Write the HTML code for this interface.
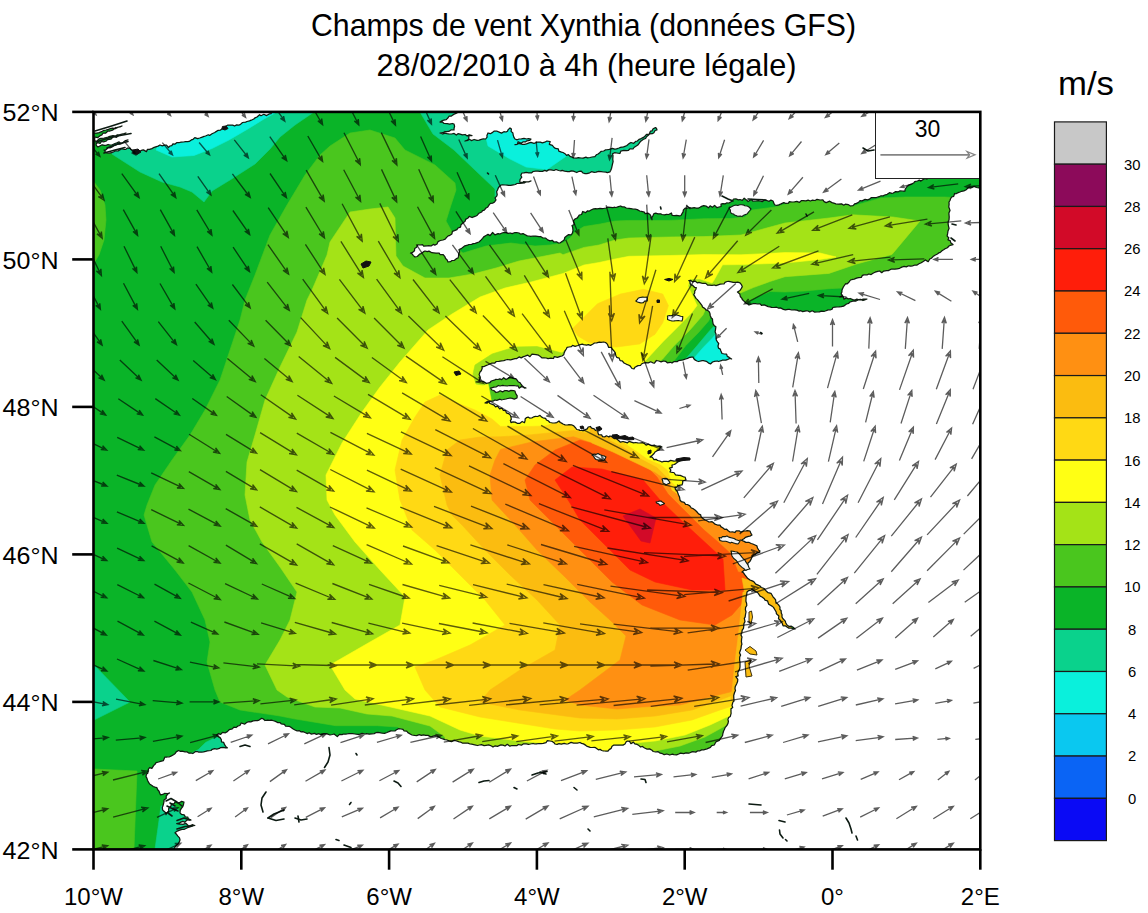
<!DOCTYPE html>
<html><head><meta charset="utf-8"><title>Champs de vent Xynthia</title>
<style>html,body{margin:0;padding:0;background:#fff}svg{display:block}text{font-family:"Liberation Sans",sans-serif;fill:#000}</style></head><body>
<svg width="1148" height="913" viewBox="0 0 1148 913">
<rect width="1148" height="913" fill="#fff"/>
<defs><clipPath id="plot"><rect x="93.5" y="111.9" width="886.8" height="737.5"/></clipPath></defs>
<g clip-path="url(#plot)">
<rect x="93.5" y="111.9" width="886.8" height="737.5" fill="#0ab428"/>
<polygon points="112.0,154.0 115.0,156.0 140.0,172.0 162.0,182.0 180.0,187.0 192.0,192.0 204.0,202.0 212.0,191.0 230.0,180.0 255.0,164.0 270.0,149.0 280.0,137.0 295.0,125.0 314.0,112.0 272.0,105.0 200.0,120.0 112.0,140.0" fill="#0ad28c" stroke="#0ad28c" stroke-width="0.6"/>
<polygon points="156.0,150.0 172.0,157.0 194.0,155.5 212.0,148.5 229.0,140.0 247.0,129.5 264.0,119.0 275.0,113.0 282.0,108.0 250.0,108.0 160.0,140.0" fill="#0af0dc" stroke="#0af0dc" stroke-width="0.6"/>
<polygon points="420.0,112.0 433.0,134.0 454.0,150.0 476.0,171.0 495.0,189.0 495.0,200.0 560.0,185.0 600.0,180.0 660.0,178.0 660.0,120.0 600.0,105.0 420.0,105.0" fill="#0ad28c" stroke="#0ad28c" stroke-width="0.6"/>
<polygon points="485.0,134.0 488.0,146.0 510.0,159.0 526.0,167.0 547.0,169.5 565.0,157.0 575.0,150.0 560.0,135.0 520.0,125.0 495.0,125.0" fill="#0af0dc" stroke="#0af0dc" stroke-width="0.6"/>
<polygon points="94.0,665.0 130.0,702.0 94.0,720.0" fill="#0ad28c" stroke="#0ad28c" stroke-width="0.6"/>
<polygon points="190.0,754.0 198.4,749.6 205.6,742.4 216.5,737.0 226.0,742.0 228.0,749.0 205.0,753.0" fill="#0ad28c" stroke="#0ad28c" stroke-width="0.6"/>
<polygon points="161.0,806.0 155.0,849.0 182.0,849.0 190.0,822.0 172.0,803.0" fill="#0ad28c" stroke="#0ad28c" stroke-width="0.6"/>
<polygon points="685.6,359.0 697.0,345.8 708.6,332.0 713.4,326.7 722.0,330.0 735.0,362.0 690.0,366.0" fill="#0ad28c" stroke="#0ad28c" stroke-width="0.6"/>
<polygon points="695.0,357.0 703.0,347.7 712.5,338.0 716.0,334.0 724.0,345.0 735.0,362.0 697.0,364.0" fill="#0af0dc" stroke="#0af0dc" stroke-width="0.6"/>
<polygon points="451.0,230.0 446.0,221.0 451.0,205.0 456.0,190.0 455.0,183.0 435.0,165.0 405.0,150.0 395.0,138.0 370.0,130.0 350.0,133.0 330.0,146.0 320.0,155.0 305.0,175.0 287.0,205.0 270.0,235.0 255.0,275.0 245.0,300.0 240.0,320.0 230.0,350.0 220.0,380.0 205.0,410.0 190.0,435.0 172.0,460.0 155.0,485.0 147.0,505.0 144.0,515.0 152.0,542.0 175.0,570.0 192.0,592.0 205.0,620.0 210.0,642.0 207.0,662.0 215.0,690.0 220.0,702.0 240.0,710.0 280.0,716.0 294.0,718.8 335.7,725.7 377.6,725.7 398.0,727.0 403.0,732.0 403.0,800.0 760.0,800.0 760.0,430.0 645.0,430.0 645.0,372.0 674.0,361.0 685.6,345.8 699.0,332.0 708.6,321.0 713.0,312.0 745.0,303.0 747.0,302.5 757.6,296.4 770.0,291.5 785.0,292.0 805.0,291.0 829.0,288.7 843.0,288.0 860.0,300.0 960.0,250.0 960.0,198.0 945.6,197.0 905.0,197.0 881.0,198.0 853.0,206.0 850.0,198.0 800.0,190.0 790.0,203.0 775.0,207.0 752.0,210.0 745.0,217.0 730.0,218.5 704.0,218.7 669.0,220.4 629.0,220.4 615.0,221.0 600.0,224.0 584.0,226.5 575.0,232.0 570.0,238.0 563.0,243.0 550.0,245.0 535.0,246.0 511.0,243.0 486.0,246.0 463.0,253.0 459.0,250.0" fill="#4ac61e" stroke="#4ac61e" stroke-width="0.6"/>
<polygon points="94.0,182.0 100.0,190.0 105.0,205.0 106.0,220.0 104.0,240.0 99.0,255.0 94.0,263.0 90.0,263.0 90.0,182.0" fill="#4ac61e" stroke="#4ac61e" stroke-width="0.6"/>
<polygon points="94.0,769.0 137.0,771.0 134.0,849.0 94.0,849.0" fill="#4ac61e" stroke="#4ac61e" stroke-width="0.6"/>
<polygon points="560.0,253.0 519.0,261.0 496.0,268.0 473.0,274.0 449.0,278.0 425.0,278.0 403.0,266.0 396.0,256.0 395.0,218.0 388.0,207.0 370.0,209.0 350.0,212.0 330.0,242.0 327.0,255.0 312.0,290.0 307.0,300.0 297.0,332.0 280.0,367.0 265.0,400.0 255.0,435.0 247.0,462.0 245.0,495.0 250.0,520.0 262.0,542.0 280.0,567.0 297.0,592.0 290.0,620.0 280.0,640.0 265.0,665.0 277.0,690.0 287.0,697.0 315.0,707.0 340.0,708.0 367.0,714.0 392.0,716.0 430.0,726.0 445.0,737.0 445.0,790.0 655.0,790.0 655.0,751.0 680.0,746.0 705.0,737.0 725.0,726.0 735.0,715.0 760.0,715.0 760.0,430.0 645.0,430.0 645.0,372.0 662.7,359.0 674.0,345.8 689.5,330.5 703.0,315.0 706.0,308.0 738.0,294.0 753.3,287.6 770.0,281.5 785.0,276.7 829.0,273.4 856.6,264.0 892.0,254.4 920.0,221.0 893.0,217.0 853.0,214.8 829.0,218.0 785.0,223.0 741.0,235.0 704.0,236.6 669.0,237.0 629.0,238.0 615.0,240.0 599.0,245.0 584.0,247.4 563.0,254.7" fill="#a4e317" stroke="#a4e317" stroke-width="0.6"/>
<polygon points="615.0,259.0 599.0,262.5 584.0,265.0 563.0,273.5 531.0,282.0 505.0,288.0 480.0,297.0 452.0,314.0 428.0,330.0 400.0,362.0 380.0,387.0 362.0,412.0 342.0,443.0 326.0,475.0 327.0,500.0 335.0,515.0 355.0,542.0 380.0,570.0 405.0,597.0 400.0,625.0 370.0,642.0 330.0,665.0 345.0,690.0 355.0,699.0 386.0,706.0 430.0,716.0 460.0,730.0 480.0,736.0 520.0,741.0 542.0,743.0 542.0,790.0 612.0,790.0 612.0,745.0 655.0,741.0 685.0,735.0 710.0,725.0 727.0,717.0 760.0,715.0 760.0,430.0 645.0,430.0 645.0,361.0 647.0,359.0 662.7,342.0 678.0,326.7 691.4,313.0 697.0,305.6 688.0,286.0 690.0,279.0 700.0,279.0 712.0,283.0 713.8,280.6 722.6,264.8 741.0,264.6 785.0,263.0 820.0,259.5 836.0,257.0 820.0,253.0 785.0,252.6 741.0,254.8 704.0,254.6 669.0,255.5 629.0,256.3" fill="#ffff14" stroke="#ffff14" stroke-width="0.6"/>
<polygon points="572.6,328.6 597.5,303.7 620.5,294.0 643.5,289.3 662.7,294.0 668.4,305.6 662.7,322.8 655.0,334.3 639.7,343.9 616.7,347.0 603.0,346.0 588.0,342.0 578.0,336.0" fill="#ffd914" stroke="#ffd914" stroke-width="0.6"/>
<polygon points="553.0,423.5 545.0,426.0 531.8,426.4 500.5,426.4 492.0,419.0 475.0,410.0 457.0,403.0 440.0,395.0 425.0,402.0 415.0,417.0 402.0,440.0 395.0,470.0 400.0,500.0 412.0,530.0 435.0,550.0 460.0,575.0 485.0,600.0 505.0,625.0 470.0,645.0 435.0,660.0 415.0,667.0 425.0,690.0 440.0,707.0 480.0,717.0 530.0,725.0 555.0,729.0 580.0,731.0 617.0,730.0 655.0,727.0 692.0,720.0 720.0,710.0 732.0,706.0 760.0,706.0 760.0,430.0 645.0,430.0 560.0,418.0" fill="#ffd914" stroke="#ffd914" stroke-width="0.6"/>
<polygon points="600.0,436.0 573.6,430.5 531.8,434.7 500.5,436.8 480.0,437.0 460.0,440.0 447.0,450.0 440.0,475.0 447.0,505.0 452.0,515.0 462.0,525.0 485.0,550.0 510.0,575.0 537.0,600.0 560.0,625.0 555.0,650.0 520.0,670.0 490.0,690.0 480.0,702.0 520.0,710.0 580.0,718.0 617.0,719.0 655.0,716.0 692.0,710.0 720.0,700.0 733.0,695.0 760.0,695.0 760.0,430.0 645.0,430.0 610.0,430.0" fill="#fbbc10" stroke="#fbbc10" stroke-width="0.6"/>
<polygon points="600.0,440.0 592.0,443.0 573.6,436.8 551.0,439.5 531.8,442.0 500.5,449.4 495.0,460.0 490.0,475.0 492.0,500.0 515.0,525.0 537.0,550.0 565.0,577.0 590.0,602.0 610.0,620.0 626.0,636.0 620.0,660.0 600.0,675.0 580.0,690.0 565.0,700.0 580.0,705.0 617.0,709.0 642.0,707.0 680.0,705.0 710.0,697.0 730.0,692.0 738.0,690.0 760.0,690.0 760.0,430.0 645.0,430.0 610.0,432.0" fill="#ff9012" stroke="#ff9012" stroke-width="0.6"/>
<polygon points="580.0,440.0 555.0,450.0 535.0,465.0 525.0,480.0 530.0,500.0 555.0,525.0 580.0,550.0 612.0,582.0 642.0,605.0 680.0,620.0 715.0,625.0 732.0,615.0 745.0,600.0 760.0,600.0 760.0,575.0 738.0,572.0 731.0,554.0 718.0,542.0 704.0,530.0 686.0,512.0 668.0,494.0 657.0,477.0 640.0,460.0 615.0,450.0" fill="#ff5a0a" stroke="#ff5a0a" stroke-width="0.6"/>
<polygon points="555.0,480.0 572.0,467.0 602.0,469.0 643.0,480.0 660.0,500.0 684.0,523.0 709.0,546.0 723.0,559.0 725.0,590.0 692.0,590.0 655.0,582.0 630.0,570.0 605.0,545.0 580.0,520.0 570.0,503.0" fill="#ff1e0a" stroke="#ff1e0a" stroke-width="0.6"/>
<polygon points="623.0,516.0 640.0,509.0 656.0,518.0 650.0,543.0 641.0,541.0" fill="#d20a28" stroke="#d20a28" stroke-width="0.6"/>
<polygon points="590.0,438.0 592.0,443.0 613.0,452.0 634.0,462.0 655.0,472.0 671.0,483.0 676.0,493.0 690.0,506.0 700.0,506.0 700.0,455.0 640.0,435.0 590.0,425.0" fill="#fbbc10" stroke="#fbbc10" stroke-width="0.6"/>
<polygon points="610.0,440.0 622.0,446.0 640.0,458.0 657.0,467.0 668.0,478.0 672.0,490.0 684.0,498.0 700.0,498.0 700.0,450.0 640.0,435.0" fill="#ffd914" stroke="#ffd914" stroke-width="0.6"/>
<polygon points="625.0,443.0 635.0,450.0 648.0,459.0 660.0,464.0 668.0,470.0 672.0,482.0 680.0,490.0 690.0,490.0 690.0,450.0 640.0,438.0" fill="#ffff14" stroke="#ffff14" stroke-width="0.6"/>
<polygon points="743.0,592.0 748.0,592.0 747.0,612.0 743.0,637.0 741.0,662.0 738.0,687.0 736.0,700.0 731.0,700.0 735.0,662.0 739.0,630.0" fill="#fbbc10" stroke="#fbbc10" stroke-width="0.6"/>
<polygon points="742.0,578.0 760.0,584.0 775.0,595.0 785.0,610.0 792.0,630.0 780.0,630.0 765.0,605.0 745.0,595.0" fill="#fbbc10" stroke="#fbbc10" stroke-width="0.6"/>
<polygon points="473.0,374.0 475.0,365.0 492.0,354.0 515.0,347.0 537.0,346.5 562.0,353.0 568.0,347.0 560.0,365.0 483.0,385.0 476.0,384.0" fill="#a4e317" stroke="#a4e317" stroke-width="0.6"/>
<polygon points="488.0,380.0 520.0,375.0 528.0,390.0 518.0,401.0 492.0,401.0" fill="#4ac61e" stroke="#4ac61e" stroke-width="0.6"/>
<polygon points="90.0,108.0 272.0,108.0 272.3,110.3 271.8,111.8 271.0,113.7 269.2,113.9 266.6,115.6 263.8,114.3 261.0,115.7 259.6,114.7 257.0,117.0 255.1,117.8 253.8,119.0 251.2,120.2 249.5,120.9 247.0,121.5 245.6,122.1 242.5,122.5 240.5,124.4 238.7,125.2 236.6,124.9 234.6,126.0 232.7,125.1 229.8,125.1 228.0,125.0 226.6,125.8 224.6,127.7 222.4,128.5 220.3,130.2 218.2,130.3 216.1,131.6 214.8,132.5 212.0,133.7 209.6,135.4 208.3,134.8 205.5,136.0 204.1,136.4 201.6,137.3 199.7,138.0 197.6,138.7 194.8,137.6 193.1,139.3 191.3,139.9 189.2,141.4 187.5,141.6 185.4,141.7 183.5,142.0 181.1,142.1 179.5,142.5 177.0,142.5 175.1,144.1 172.9,143.9 171.8,145.6 170.0,146.0 168.4,147.5 166.5,145.2 164.5,145.2 162.3,145.8 160.0,145.0 158.1,146.1 156.5,146.6 154.2,147.3 151.9,148.6 149.4,149.3 147.5,149.4 146.4,151.6 143.4,149.9 142.1,150.2 140.0,151.0 138.0,151.3 137.0,153.0 135.1,152.2 133.4,150.3 130.8,149.5 130.0,148.0 127.4,148.0 125.8,149.4 124.6,149.5 121.3,148.6 120.2,149.6 118.0,151.0 115.4,150.8 113.8,151.7 111.6,152.7 109.1,153.2 107.0,153.0 105.4,151.9 104.0,150.0 105.7,150.0 108.4,147.5 109.9,148.0 112.6,146.6 114.1,145.4 115.7,145.0 118.0,144.0 119.9,144.2 122.6,143.0 123.9,141.8 126.3,140.4 128.0,140.0 125.2,140.6 124.2,141.7 121.2,143.8 119.1,141.9 116.9,142.9 115.0,143.5 112.3,144.8 110.0,145.0 108.1,144.5 106.5,145.1 104.4,145.3 102.1,144.8 100.3,145.7 98.0,147.0 96.4,145.6 96.0,144.0 97.6,142.6 100.1,143.4 101.4,141.5 103.6,141.8 106.4,141.0 107.4,139.6 110.8,139.2 112.0,138.0 113.9,136.6 116.5,137.3 118.1,136.1 119.4,135.0 121.8,134.1 124.6,133.8 126.0,133.0 124.0,133.6 121.0,134.4 119.3,134.9 117.3,134.8 115.5,136.2 113.0,135.7 109.8,136.3 108.0,137.0 106.3,137.5 104.2,138.2 100.9,138.3 99.3,138.8 96.8,141.2 95.0,141.0 94.6,139.4 95.0,137.0 97.5,137.7 100.1,135.7 101.9,134.9 102.9,133.2 105.5,133.2 108.0,131.0 110.0,131.0 112.5,130.1 113.8,129.3 115.8,127.5 117.4,127.7 119.4,126.8 122.0,126.0 120.0,127.0 117.8,127.2 115.4,128.6 112.5,128.1 110.5,128.5 108.4,129.4 106.0,130.0 103.2,130.6 102.3,131.4 99.1,132.7 96.9,133.1 95.0,133.0 93.0,133.3 91.4,133.2 90.0,133.0" fill="#fff" stroke="#101a10" stroke-width="1.25" stroke-linejoin="round"/>
<polygon points="457.0,108.0 456.2,109.2 457.7,111.6 457.0,113.0 454.8,113.8 453.5,114.6 451.1,116.2 449.0,116.2 448.1,117.8 446.3,119.6 443.8,120.2 442.4,120.6 440.0,122.0 442.4,122.0 444.1,123.5 447.2,123.7 449.6,124.1 452.4,123.5 454.0,124.0 454.6,126.3 454.1,128.0 454.0,130.0 451.0,129.9 448.8,131.4 446.4,131.7 445.0,131.5 442.9,132.7 440.0,133.0 442.8,134.0 444.9,133.1 447.1,133.6 448.7,133.9 451.6,134.0 454.1,133.4 456.3,135.1 458.0,133.7 460.1,134.1 462.5,134.9 465.1,134.5 467.2,136.1 469.2,134.8 472.0,135.6 468.9,135.7 468.7,139.2 466.9,140.3 465.0,141.0 467.9,140.3 469.3,139.2 471.4,140.6 474.1,139.5 477.1,140.3 479.1,140.1 481.3,139.4 483.3,138.9 485.7,139.0 487.1,137.1 486.9,135.4 488.0,133.0 490.4,133.7 492.6,132.4 494.0,131.2 497.1,131.2 499.8,132.4 501.5,133.1 503.9,131.7 506.0,132.0 507.5,131.2 508.2,129.6 510.0,128.0 511.4,129.1 511.1,131.4 512.9,133.0 513.2,135.1 514.1,137.7 515.0,139.0 517.2,139.8 519.0,139.0 521.4,138.9 524.0,138.3 526.6,139.0 528.5,138.6 531.0,139.0 529.8,140.3 526.9,140.8 525.4,141.9 522.9,141.9 521.4,143.2 518.1,141.7 517.3,144.4 515.0,144.6 517.1,144.3 518.9,143.5 522.6,144.4 524.4,144.3 526.5,143.8 529.1,142.8 530.9,142.4 534.0,143.3 535.3,142.9 537.8,142.0 540.3,142.1 542.4,142.8 544.7,142.2 547.0,141.0 550.2,141.6 549.3,144.3 552.4,145.4 553.6,147.0 555.4,148.4 558.3,148.9 558.8,151.2 561.5,152.1 563.0,152.5 565.0,153.7 566.5,155.4 568.4,154.6 570.0,156.3 572.1,157.1 574.0,158.0 576.5,158.2 578.3,157.7 581.1,158.0 583.2,158.1 585.9,157.2 587.5,157.8 590.0,157.5 592.0,157.0 594.9,156.6 596.3,154.8 598.1,154.0 599.7,152.8 601.0,151.4 603.7,151.0 605.3,149.9 607.6,149.7 609.3,149.3 612.5,148.3 614.5,149.1 616.5,148.8 619.0,148.0 620.5,147.4 623.6,146.8 625.5,146.1 626.9,145.5 629.0,143.6 631.0,142.5 633.7,143.3 635.7,141.4 637.4,141.0 639.0,139.4 640.6,138.8 643.4,137.4 644.9,136.2 646.5,134.4 649.3,134.0 650.4,131.2 652.0,130.9 653.1,128.8 655.5,127.6 656.4,128.3 657.0,130.0 655.1,130.5 653.9,132.8 652.3,133.7 649.7,133.8 648.3,135.3 646.5,136.7 645.6,138.5 643.1,139.4 640.8,141.2 639.3,143.0 637.8,145.0 635.9,146.3 634.0,147.5 633.0,149.0 629.9,148.9 628.3,150.5 626.7,150.7 623.7,150.3 620.8,151.1 619.9,153.5 616.6,153.0 614.6,152.7 612.5,153.7 613.0,155.6 612.9,157.4 612.8,159.4 613.1,161.6 612.5,164.0 612.1,165.8 611.6,168.2 610.8,170.3 610.0,171.8 607.3,172.7 606.0,172.1 603.5,172.0 601.1,171.7 598.7,171.4 596.0,172.2 594.2,172.3 591.5,171.7 589.7,172.8 586.9,173.6 585.0,173.6 583.0,173.0 581.2,171.1 579.2,171.3 576.7,172.5 573.4,171.1 571.3,170.9 569.4,171.7 567.8,171.7 564.5,171.1 562.2,170.3 560.9,170.8 558.6,170.5 556.0,169.5 554.0,170.5 550.9,169.8 548.6,169.9 546.6,171.1 544.8,170.4 542.5,171.3 539.7,171.4 538.1,171.2 535.9,171.1 533.1,171.5 531.6,172.9 528.7,172.9 526.2,172.3 523.9,172.9 522.0,173.0 520.8,175.2 521.8,177.2 520.1,179.3 519.7,182.0 522.6,182.6 523.8,181.6 526.2,182.0 528.7,181.9 531.0,181.0 528.8,181.6 526.1,181.8 524.7,182.8 522.1,183.2 520.1,183.3 516.9,183.5 515.4,184.5 513.3,184.9 510.6,185.4 508.7,185.4 507.1,185.1 505.2,185.0 502.5,184.9 501.0,185.0 499.8,186.2 498.5,187.5 497.5,190.0 496.6,191.7 497.2,194.3 496.9,195.9 495.0,197.9 496.0,200.0 494.6,201.9 492.9,203.1 490.5,203.4 489.3,204.6 487.5,207.3 486.0,208.0 484.3,210.1 482.5,210.6 481.7,212.0 479.0,213.2 477.3,215.2 476.0,216.0 474.2,216.7 472.1,217.5 469.2,216.4 468.0,218.0 465.6,219.4 465.2,221.1 462.7,223.3 461.0,224.8 460.5,227.1 458.0,228.0 456.9,229.7 454.5,230.7 452.4,231.4 451.9,233.9 449.9,235.3 448.2,235.9 446.4,237.6 445.2,239.1 443.0,240.0 440.3,240.5 438.1,241.6 437.0,244.0 434.8,245.1 433.3,244.4 431.0,246.0 428.9,245.7 427.0,245.8 423.7,246.2 422.5,244.6 420.0,245.0 417.6,244.9 416.6,247.2 414.7,248.5 414.5,250.7 412.7,252.3 410.5,253.0 411.9,253.7 413.4,255.6 415.0,257.0 417.3,256.5 419.5,254.2 421.0,253.6 423.3,251.9 425.0,251.0 427.3,251.7 429.0,251.1 431.9,252.7 433.9,252.9 436.0,253.1 439.2,253.2 440.0,254.5 443.0,254.5 444.9,256.7 445.6,258.5 447.0,259.7 448.0,262.0 450.4,261.7 452.0,260.5 454.2,260.4 456.3,258.7 458.0,258.0 458.5,256.4 458.7,253.8 459.6,251.9 459.0,249.5 461.3,248.6 462.7,247.4 464.9,245.8 467.5,245.1 469.0,244.5 471.6,244.4 473.2,243.6 475.3,243.4 476.5,242.9 479.0,242.0 481.2,239.9 482.6,238.3 483.7,236.9 486.0,235.5 488.0,234.4 490.1,235.6 492.6,232.5 495.0,234.9 498.1,233.6 499.9,234.0 502.0,233.0 503.7,232.5 506.3,232.6 508.1,233.4 510.2,233.0 512.2,233.6 515.0,232.5 516.5,232.5 519.0,233.0 520.8,234.2 523.1,233.6 524.7,234.5 527.3,235.9 529.0,236.0 530.8,236.4 533.1,236.0 535.7,236.1 539.0,236.6 540.6,236.5 542.6,237.8 545.5,238.0 547.7,239.9 550.0,240.9 552.2,240.3 554.0,242.0 556.5,241.8 558.5,243.0 560.2,242.8 562.7,241.0 564.3,239.7 564.8,237.5 566.6,236.0 568.3,234.7 571.0,234.9 572.3,233.4 573.0,230.7 572.8,228.6 572.7,227.5 572.0,225.5 574.3,224.5 573.4,220.9 575.0,219.0 577.4,217.9 578.5,216.1 579.4,215.0 581.6,214.5 582.7,211.5 585.7,212.7 587.4,210.8 589.0,211.2 591.0,210.0 593.6,208.9 595.7,208.7 597.0,208.9 600.0,208.4 602.3,208.6 603.5,208.5 606.0,208.0 607.6,207.1 610.4,207.3 612.9,207.7 614.0,207.2 616.0,207.5 618.5,206.6 620.6,206.0 622.3,206.9 624.2,206.9 626.3,208.0 629.1,208.3 630.9,208.6 633.0,209.0 635.2,209.2 637.3,209.6 639.7,211.0 641.4,211.3 644.4,212.2 645.1,213.7 647.8,213.1 650.0,214.5 650.9,216.0 650.9,217.8 652.0,219.7 651.8,217.5 652.9,215.8 654.0,213.5 655.8,213.2 658.0,213.8 660.7,213.8 662.0,214.5 664.6,214.8 666.4,214.4 668.7,214.5 671.4,213.0 672.2,215.5 674.8,215.6 676.5,215.4 679.5,215.9 681.0,215.5 682.3,213.1 683.0,212.1 683.4,209.9 685.4,208.0 687.7,208.0 689.1,207.5 691.8,208.1 694.2,207.6 696.0,208.0 698.6,208.0 700.0,207.3 701.6,206.4 703.7,205.6 706.0,206.0 708.4,207.8 710.1,205.8 712.4,207.3 714.6,205.4 717.0,207.7 719.0,207.0 721.1,206.5 721.0,204.0 722.8,203.6 725.3,203.8 726.6,202.9 729.0,203.0 731.1,201.8 732.1,201.3 733.5,199.0 735.9,198.9 738.4,199.8 740.0,199.5 742.3,200.4 744.2,198.2 747.0,200.4 748.1,201.6 751.3,199.4 752.8,201.2 755.7,201.0 758.3,200.7 760.0,201.0 762.2,201.7 764.0,200.2 766.7,200.5 769.2,201.3 770.9,200.1 773.0,201.0 773.9,203.3 775.0,205.0 776.8,205.4 778.8,204.8 781.0,203.9 783.8,202.6 785.4,203.3 788.5,203.1 789.2,201.7 792.0,202.0 794.5,201.8 796.8,201.4 799.3,202.4 801.5,200.6 803.1,200.7 806.0,200.9 808.1,200.2 810.3,201.0 812.5,200.2 815.1,200.5 817.0,199.3 820.0,200.0 822.9,199.9 824.1,201.6 826.2,202.6 829.7,201.2 832.0,202.6 834.6,203.3 835.7,203.9 838.7,204.1 841.6,203.8 843.7,205.2 845.3,204.2 848.5,204.7 850.5,206.0 853.0,205.6 854.9,203.7 856.0,203.6 858.7,202.2 860.0,200.7 862.1,200.9 865.1,199.4 867.4,199.9 869.6,199.1 871.5,197.5 873.7,197.5 876.4,197.5 879.1,196.7 881.0,195.8 883.2,195.9 884.7,195.0 887.2,194.3 889.5,192.7 891.9,193.4 893.3,193.0 895.6,191.6 898.3,191.8 900.1,190.9 902.9,191.0 905.0,191.0 905.1,189.5 906.6,187.0 907.8,186.0 909.2,184.8 911.2,184.2 914.0,182.7 914.7,181.7 917.5,181.0 919.3,180.1 920.9,181.1 922.4,180.0 924.8,178.4 927.1,179.1 928.2,176.3 930.0,175.0 932.3,176.3 934.3,175.6 937.2,175.2 939.3,174.3 942.1,175.5 945.0,175.2 946.1,175.2 949.8,174.5 952.0,175.8 953.5,174.5 956.3,174.2 958.8,175.2 961.1,174.8 963.9,174.5 966.1,174.7 968.0,174.9 971.0,174.1 972.9,175.4 976.0,174.9 978.5,174.6 979.7,174.0 983.3,175.3 985.0,175.0 985.0,108.0" fill="#fff" stroke="#101a10" stroke-width="1.25" stroke-linejoin="round"/>
<polygon points="985.0,187.0 983.0,187.5 981.3,186.8 978.9,187.9 976.5,187.5 974.1,186.4 971.7,187.6 970.0,187.0 967.8,188.1 966.2,189.8 963.9,190.9 961.6,191.3 960.0,192.0 958.2,192.6 956.0,193.8 954.6,193.5 953.7,196.4 951.7,197.0 950.6,198.6 950.0,200.5 949.0,202.0 949.1,204.4 948.8,207.0 949.5,208.9 950.0,210.5 948.9,212.9 949.1,215.7 949.2,217.0 949.0,220.0 948.2,221.6 948.1,223.9 948.7,227.1 949.1,228.3 948.0,231.0 947.6,233.7 947.1,236.1 948.8,237.7 948.0,239.8 950.2,240.7 950.7,242.7 953.0,244.6 950.3,245.3 949.0,246.0 947.4,247.7 945.1,248.8 943.6,249.8 942.0,250.7 940.0,252.6 939.0,252.7 937.4,254.0 935.4,255.0 933.0,256.6 931.4,258.2 929.8,259.0 928.2,261.7 925.3,259.9 923.6,261.3 921.3,262.8 919.0,263.8 917.1,265.1 915.0,265.0 912.5,265.8 910.8,266.2 908.6,265.8 906.3,266.9 904.1,266.3 901.8,267.1 899.6,268.3 897.1,268.8 894.9,269.2 893.0,269.0 891.0,269.2 888.3,270.6 886.6,270.7 883.7,271.1 881.7,272.7 879.7,271.0 877.8,271.3 875.1,272.2 873.4,273.0 871.1,274.6 868.8,274.0 867.4,274.8 864.0,274.8 862.4,275.4 861.3,277.4 858.7,277.7 856.5,278.2 854.2,279.1 852.7,279.3 850.5,280.0 848.9,282.2 847.2,283.8 845.7,283.7 844.0,286.0 843.1,287.4 842.0,290.0 841.9,291.9 841.1,293.8 842.5,295.4 840.0,297.0 843.0,296.1 844.0,299.2 846.3,297.9 848.3,298.9 850.3,298.5 852.7,299.6 855.0,300.0 856.8,299.1 858.9,299.9 861.0,300.0 863.2,299.1 864.9,299.0 867.0,299.0 864.7,299.9 863.0,300.5 860.7,299.4 858.7,299.7 856.0,301.0 853.8,301.0 852.0,301.3 850.0,302.0 848.7,303.3 846.5,304.0 843.6,306.2 841.3,306.7 839.2,306.9 837.0,307.0 834.9,307.2 832.8,307.5 832.2,309.1 830.0,310.0 828.3,309.8 825.3,311.0 823.9,311.4 821.4,311.1 819.4,311.9 817.0,312.0 814.7,312.1 812.2,310.8 809.8,312.0 808.0,311.0 806.1,310.9 802.7,311.6 800.8,310.7 799.2,311.1 796.9,310.2 794.6,309.9 792.0,310.0 789.4,309.3 788.0,309.3 785.4,309.9 783.4,309.4 780.4,307.9 778.8,308.2 776.6,307.2 773.9,307.5 771.6,307.3 770.0,306.9 768.2,306.6 765.4,305.4 764.3,304.9 761.4,305.3 760.1,303.9 757.6,304.0 755.5,303.6 753.7,303.5 751.3,304.1 749.0,305.0 748.0,304.1 745.8,303.0 744.5,301.6 742.3,299.5 741.9,298.3 740.3,296.5 739.8,294.0 737.5,292.0 740.0,290.5 741.2,288.6 742.3,286.7 741.6,284.9 740.0,282.8 737.7,282.1 735.7,282.3 733.2,282.4 731.2,281.8 728.7,281.4 727.0,281.5 725.0,282.3 724.2,283.8 722.6,284.0 720.3,284.1 718.8,284.6 716.0,285.7 714.3,285.0 712.0,285.4 709.3,285.2 707.8,285.2 705.8,283.4 702.9,283.4 701.6,283.2 699.0,282.3 697.3,282.9 695.4,281.2 692.5,281.8 690.8,280.4 688.8,280.6 690.0,281.5 690.1,283.3 691.0,285.0 692.5,285.2 694.8,287.5 696.3,287.6 695.8,289.5 694.7,291.2 694.7,293.0 693.7,294.6 694.5,295.9 696.0,298.4 697.4,299.6 699.0,301.6 700.4,303.4 701.9,305.3 702.5,307.0 705.0,308.6 705.7,309.8 707.7,310.4 709.4,312.0 710.0,313.6 710.2,315.4 711.3,318.0 712.5,319.0 712.6,321.0 713.1,323.9 714.1,325.4 715.9,326.7 715.5,329.6 715.1,331.8 716.0,334.0 716.1,336.0 716.1,337.7 716.3,340.0 717.6,342.1 718.7,343.5 718.0,346.0 718.5,348.1 720.3,349.1 720.9,351.0 722.0,353.5 724.3,354.0 726.6,354.2 727.3,356.4 729.2,357.4 731.6,359.0 729.9,358.4 727.2,359.7 725.8,360.2 722.7,360.0 721.3,360.7 718.5,361.5 717.2,361.0 714.5,361.4 712.5,362.0 710.7,363.9 708.6,363.1 706.3,361.3 703.3,360.6 702.1,360.6 698.6,361.5 697.0,361.0 694.9,359.9 694.0,359.0 693.0,357.0 691.4,357.1 688.8,357.7 687.6,358.4 685.6,359.0 683.0,359.9 681.5,360.2 678.4,360.7 677.1,361.7 674.1,361.5 672.0,363.0 670.4,362.3 667.3,362.8 665.6,361.3 663.5,361.0 661.1,361.9 658.8,361.0 656.4,360.5 654.4,363.1 652.8,362.8 650.7,361.8 648.3,362.9 645.3,362.7 643.5,363.0 641.5,364.0 640.5,365.5 638.0,365.6 635.0,367.2 634.0,368.8 632.0,368.5 630.1,365.9 628.4,365.0 626.6,364.3 624.0,363.0 622.2,360.8 620.1,360.6 619.2,358.1 616.7,357.3 615.7,355.2 615.2,352.7 614.0,351.0 612.6,349.5 611.3,347.4 608.7,347.4 607.3,344.1 605.6,342.5 603.8,342.0 601.0,342.4 599.4,342.1 596.6,342.8 594.5,343.0 593.0,344.0 590.5,345.4 588.3,344.6 586.6,345.2 583.6,344.7 582.2,344.2 579.4,344.8 577.9,345.5 575.1,346.3 572.6,345.4 571.4,346.7 569.0,347.0 567.0,347.4 566.3,349.0 564.9,351.2 564.1,353.1 563.7,354.8 562.0,356.0 560.3,356.3 557.5,357.4 554.2,356.6 553.5,358.5 551.0,358.2 548.0,358.7 546.3,358.0 544.0,357.9 541.8,357.8 539.6,355.9 538.6,355.2 536.1,354.6 534.0,354.4 532.0,354.2 529.9,356.7 527.6,355.1 525.1,356.1 523.4,356.6 521.2,357.9 519.1,356.9 516.8,358.6 515.0,358.7 513.2,359.1 510.6,359.9 507.4,359.5 505.6,360.0 503.8,360.7 501.7,360.8 498.8,361.4 496.3,361.5 494.8,363.0 492.0,363.0 490.3,363.8 487.6,365.0 486.4,365.4 483.6,366.7 482.0,366.6 482.2,368.3 481.3,370.7 480.0,372.0 479.1,374.6 480.3,377.2 480.0,378.8 479.0,381.0 480.7,381.0 483.1,381.4 486.3,383.4 488.0,383.0 489.7,382.7 491.3,381.0 494.3,380.2 495.8,379.4 498.0,379.5 499.8,378.9 501.7,379.6 503.7,377.7 506.0,379.5 508.7,378.1 510.0,377.0 512.4,377.5 513.3,378.4 515.8,378.6 517.0,380.0 518.1,381.7 520.0,382.7 521.2,384.5 522.2,385.7 523.6,387.0 526.0,388.0 524.5,388.1 521.7,386.2 519.2,388.2 517.9,385.8 516.5,386.0 514.0,385.5 512.2,385.5 509.3,385.5 507.2,386.0 504.0,385.7 502.6,385.3 500.0,386.0 498.4,385.5 496.4,386.8 493.7,387.1 492.4,387.7 490.5,388.0 491.9,390.0 493.8,390.5 496.0,392.5 498.6,391.8 500.2,390.8 502.6,391.9 505.0,390.5 506.9,390.7 508.8,391.4 510.9,390.4 513.5,390.7 515.0,391.0 515.3,392.5 516.1,394.1 517.2,395.8 517.0,398.0 514.3,399.1 512.2,398.4 510.4,398.0 507.7,398.5 506.0,399.0 503.3,399.5 501.2,399.8 500.0,399.2 496.8,400.4 495.0,400.0 493.3,401.1 490.8,401.2 489.4,401.4 487.3,401.4 485.0,403.0 487.2,403.1 488.5,401.6 490.0,403.5 492.4,404.4 494.1,405.1 495.5,406.8 497.6,406.2 499.6,408.8 502.0,408.2 503.2,410.3 505.7,410.7 506.4,412.9 509.1,413.9 510.3,415.1 511.0,417.0 511.3,419.4 510.4,420.5 511.0,422.7 513.0,421.9 515.1,422.1 517.2,423.3 519.6,423.4 522.2,421.5 524.5,422.7 525.1,420.5 525.1,419.0 526.6,417.5 528.1,417.1 529.6,418.1 531.8,418.0 533.8,416.8 535.4,416.4 537.6,416.5 540.0,415.4 541.4,416.9 543.0,417.8 545.6,418.4 546.4,420.0 548.2,420.8 549.9,422.5 552.7,423.0 554.8,422.9 556.8,422.6 559.0,421.0 560.3,422.5 561.6,423.1 563.0,424.0 565.1,424.8 567.2,425.0 569.0,424.7 571.5,424.8 573.8,425.9 575.7,428.0 576.8,429.5 579.0,429.9 579.8,430.4 582.0,430.5 584.0,430.5 585.3,429.6 587.2,428.9 588.2,427.0 590.3,426.5 591.7,428.1 594.2,428.8 595.6,430.5 597.9,431.0 597.9,432.7 598.7,434.7 601.6,434.9 602.6,436.7 605.0,436.8 606.4,435.8 608.9,437.0 610.0,436.0 611.9,436.7 614.1,438.6 616.1,438.6 618.6,440.6 620.5,442.2 623.0,441.5 625.0,442.1 627.5,442.8 629.1,441.4 632.0,442.3 633.8,442.9 635.5,442.5 637.7,442.9 640.0,443.0 642.3,442.6 644.1,443.3 646.1,445.1 648.2,444.1 650.0,445.0 651.6,445.7 654.4,445.1 655.6,445.9 658.1,446.4 660.3,446.1 662.0,447.0 660.4,447.3 659.1,450.0 656.7,450.9 655.0,452.0 654.1,453.5 652.3,455.3 650.0,457.0 652.1,457.0 654.0,459.6 656.0,459.3 657.6,460.5 659.8,461.0 662.0,462.0 663.7,461.4 666.6,461.3 668.3,461.6 670.7,460.4 673.9,461.1 676.1,461.0 677.8,460.7 680.3,459.6 682.8,459.5 685.0,460.0 683.2,460.4 680.5,460.8 678.2,461.7 675.8,463.6 674.3,464.5 672.0,465.0 672.2,467.4 669.4,468.2 670.9,470.1 670.0,472.0 672.4,472.4 673.9,472.5 675.6,474.8 678.8,475.4 680.2,475.4 683.4,476.8 685.0,477.0 686.0,479.9 682.7,481.0 682.7,482.9 682.0,485.0 680.3,485.1 678.4,485.6 676.7,487.0 675.0,487.0 675.4,489.3 676.9,490.6 678.0,493.5 678.6,495.0 679.6,497.3 680.0,500.0 681.3,501.7 684.2,502.4 685.6,504.3 687.4,504.5 689.8,505.9 691.3,508.0 693.2,508.7 695.0,510.0 696.6,511.5 698.6,513.9 700.7,514.9 701.0,516.6 702.6,518.3 705.0,520.0 706.8,520.8 709.0,522.0 712.1,521.7 713.5,522.7 714.9,524.1 717.5,525.0 720.0,525.0 720.8,526.6 722.7,527.7 724.9,529.4 726.6,529.2 728.2,530.8 730.0,532.0 732.7,531.9 734.9,532.5 736.2,530.9 739.4,530.9 740.6,532.2 743.9,531.0 746.1,530.8 747.5,530.6 750.0,531.0 751.0,533.6 752.0,535.0 749.9,536.1 748.4,536.3 745.4,537.4 744.3,538.5 742.2,539.8 740.0,540.0 741.9,540.5 744.2,541.4 745.8,542.4 748.7,542.3 751.2,543.5 752.8,544.0 755.0,545.0 756.9,545.9 757.5,548.0 758.8,550.2 760.0,551.0 759.1,552.5 756.9,552.7 754.8,554.8 753.6,554.9 752.0,557.0 751.0,559.4 749.9,561.4 748.0,563.0 747.6,565.4 747.0,567.0 746.1,570.1 744.4,570.1 742.0,572.0 743.5,572.8 744.9,574.9 746.7,577.2 747.6,578.3 750.0,580.0 752.8,581.1 753.8,581.7 755.7,584.2 758.1,585.2 760.0,586.0 761.2,587.5 764.1,588.5 765.2,589.8 766.5,591.3 768.1,592.7 771.0,593.3 772.0,595.0 773.3,597.3 774.1,597.9 775.6,599.9 775.9,602.3 777.6,603.9 778.9,605.3 780.0,607.0 779.9,609.5 781.1,610.4 781.3,613.2 782.0,614.5 782.0,617.0 782.8,618.5 785.3,621.2 785.7,622.7 787.0,625.0 789.1,626.4 791.4,626.2 793.1,627.2 795.0,629.0 792.8,628.8 791.0,628.0 788.8,628.1 787.0,627.0 785.6,625.9 783.1,625.9 782.2,623.2 781.0,621.6 780.0,620.0 778.5,618.7 778.9,615.9 776.4,613.8 776.2,612.0 775.0,610.0 773.5,607.4 772.0,606.1 770.5,605.2 768.6,604.1 767.5,600.8 764.9,600.1 764.3,598.8 762.0,597.0 760.1,596.1 758.6,593.9 757.6,592.5 755.0,591.4 753.4,590.4 752.0,589.0 751.1,590.1 748.8,590.6 747.0,592.0 746.7,594.8 746.1,596.9 746.0,599.1 745.9,601.2 746.6,603.3 746.8,605.5 745.6,607.3 745.4,609.6 746.0,612.0 745.5,614.5 745.1,617.2 744.3,618.4 745.0,621.6 743.9,623.6 743.8,625.8 743.5,628.3 742.2,630.1 741.9,632.4 740.9,634.9 742.0,637.0 741.6,639.0 741.4,641.6 741.9,644.3 741.3,645.9 741.0,648.8 740.5,650.0 739.5,652.9 740.6,655.1 739.7,657.1 739.6,660.2 740.0,662.0 740.0,664.9 740.0,666.9 739.6,669.2 738.4,671.1 737.7,673.1 738.2,675.9 735.8,676.7 737.8,679.3 737.6,681.5 736.6,684.0 735.2,686.7 735.0,689.0 735.5,690.4 734.4,693.0 733.7,695.5 733.8,698.0 734.0,701.0 732.9,702.2 732.0,705.4 732.7,707.5 731.0,708.8 731.0,711.8 731.1,713.4 730.3,716.4 728.6,717.6 727.9,719.6 728.4,721.3 728.0,723.4 726.8,725.7 725.1,727.6 724.3,729.8 723.7,730.8 722.8,733.7 722.6,735.5 721.7,736.8 720.0,739.2 719.4,740.3 716.2,741.6 715.3,743.0 714.3,745.0 711.7,745.7 710.4,747.4 708.7,748.1 707.0,748.8 703.6,749.8 701.6,749.9 700.0,750.8 697.9,750.8 695.8,752.1 692.8,751.6 691.1,752.2 688.8,753.2 686.0,752.9 683.6,753.6 680.6,753.1 678.7,754.0 676.6,754.9 673.8,754.7 672.5,754.2 669.7,755.0 666.8,754.0 664.2,754.7 662.5,753.7 660.2,753.2 657.8,751.6 655.7,752.0 653.2,751.5 652.0,750.2 649.6,748.9 647.1,749.1 644.6,748.0 642.4,746.4 640.6,747.0 639.0,745.6 637.2,744.4 634.8,743.9 633.4,742.1 630.9,743.6 629.8,741.7 627.9,741.0 626.2,741.7 625.0,744.0 623.0,745.1 620.4,745.1 618.2,745.2 615.6,745.1 614.0,745.0 612.0,746.2 611.1,748.4 609.2,749.6 608.0,751.0 605.3,751.0 603.3,750.9 601.8,750.5 600.0,749.4 598.4,749.8 595.6,747.7 594.3,747.3 592.0,747.5 590.2,747.4 587.3,746.4 585.9,745.4 583.5,743.9 581.5,743.4 580.0,742.5 577.3,743.1 575.0,743.1 573.7,743.1 571.1,742.4 568.2,743.8 566.2,744.0 564.2,743.4 561.3,744.2 559.0,743.6 557.1,744.4 555.0,744.0 554.0,742.7 552.3,741.4 550.0,741.0 547.4,740.6 546.0,742.6 543.2,743.3 541.1,743.6 539.0,743.5 536.7,743.8 535.0,744.0 533.1,743.5 530.4,744.0 528.5,744.3 526.3,743.8 523.2,743.9 521.4,745.2 518.2,744.5 517.0,745.6 514.7,745.5 511.9,745.5 509.9,746.2 507.3,744.3 505.0,746.0 503.0,745.2 500.9,744.9 497.4,746.4 495.2,745.8 493.0,747.0 491.5,746.0 488.7,744.9 486.0,745.3 484.1,745.6 481.4,744.6 479.5,745.0 477.5,745.5 474.8,744.8 471.7,744.2 470.0,744.0 468.0,743.2 465.6,743.2 462.7,743.2 460.9,742.2 459.2,741.9 456.5,741.0 454.2,740.4 451.5,741.7 449.1,740.9 447.0,740.0 444.8,739.6 442.9,738.8 441.3,738.5 438.4,736.7 437.0,736.0 435.1,735.6 432.2,736.3 430.2,736.6 428.1,735.4 425.7,735.4 423.4,734.9 421.4,735.4 419.3,734.7 416.7,735.6 414.6,735.4 412.0,735.0 410.6,734.2 407.9,732.6 406.7,731.2 404.1,731.0 403.0,729.3 401.0,729.0 398.6,728.7 396.5,729.8 395.0,730.9 392.5,731.0 390.8,730.9 388.5,731.8 387.0,732.5 384.6,733.3 382.4,733.2 380.8,732.9 378.0,732.3 375.8,732.7 374.2,733.6 371.8,733.8 369.2,734.2 366.5,733.6 365.2,734.0 362.0,733.3 360.0,734.0 357.9,734.4 354.9,734.0 352.7,733.7 351.2,733.5 348.9,733.6 346.5,734.0 343.4,734.0 342.1,734.6 339.5,734.4 337.3,736.6 334.0,734.0 332.5,734.5 330.0,735.0 327.1,733.9 325.2,733.9 323.9,733.6 321.1,734.9 319.0,733.7 316.3,734.4 314.7,733.3 311.1,734.1 309.1,732.7 307.4,733.6 305.0,732.5 302.8,731.7 301.2,731.9 299.5,730.7 297.1,730.8 295.0,730.0 292.8,728.7 290.5,727.1 289.5,726.4 285.6,726.1 284.4,724.3 281.2,723.9 280.0,722.5 277.5,722.5 276.0,721.6 274.3,721.0 271.4,720.2 269.3,720.4 267.7,720.1 265.0,720.5 263.4,719.0 261.7,718.3 259.1,720.1 257.3,720.7 255.3,720.7 253.2,720.8 250.8,721.8 249.0,721.6 246.6,722.5 244.8,724.1 241.2,723.0 239.9,725.5 238.0,726.0 236.0,727.5 233.9,727.1 232.3,728.9 230.2,729.4 229.2,729.7 227.3,731.6 225.4,732.8 222.5,732.3 220.7,734.3 218.7,733.5 216.5,735.0 217.6,736.1 220.1,737.6 221.3,739.5 221.5,741.9 223.7,742.4 224.7,744.9 225.9,746.7 227.3,747.8 225.5,747.9 223.1,747.3 220.6,747.6 219.4,748.4 216.8,749.1 214.7,748.7 212.2,749.3 211.0,750.5 207.3,750.9 205.6,751.4 203.6,751.9 201.7,752.1 198.7,752.1 197.2,751.5 195.2,751.7 192.8,753.5 191.0,753.0 189.1,753.2 187.2,751.9 185.0,751.8 182.1,751.2 180.5,751.3 178.5,750.5 176.2,751.9 175.2,753.4 173.5,754.7 170.9,756.1 169.5,756.8 167.1,757.0 164.9,757.0 163.4,760.6 160.5,761.4 158.7,762.0 156.0,762.7 155.3,764.0 153.6,765.6 151.9,768.4 149.6,767.7 148.4,769.1 148.1,771.6 147.7,773.3 146.4,774.1 146.0,776.7 146.9,778.1 147.5,780.2 148.5,782.2 149.6,784.0 151.6,785.2 153.2,786.5 154.9,787.2 156.8,787.6 157.7,789.7 159.1,791.2 159.5,792.8 160.5,794.8 162.9,794.4 164.4,793.4 167.5,793.5 169.5,793.0 167.8,794.1 166.2,796.0 166.2,798.5 164.0,800.0 164.0,801.6 163.5,803.8 162.9,806.1 162.3,807.4 162.6,809.8 163.7,811.1 165.7,812.8 166.0,814.7 166.5,813.3 168.7,811.0 168.6,808.8 169.3,807.7 171.0,806.0 171.4,804.1 174.3,803.5 175.0,802.0 177.7,802.8 179.3,802.7 181.6,801.4 184.0,802.0 183.5,804.5 182.8,806.5 181.2,808.6 180.2,810.4 180.0,812.9 181.4,814.3 184.2,814.9 185.3,816.9 187.7,817.0 188.4,818.9 191.0,820.0 188.2,819.9 187.0,820.1 184.7,822.3 182.8,821.3 180.9,822.1 179.0,823.2 176.7,823.7 179.4,824.1 181.3,824.1 183.0,824.3 185.8,823.3 188.1,825.5 189.9,825.8 192.2,824.7 194.8,825.5 192.6,825.9 190.7,826.6 187.5,827.7 185.9,828.5 184.4,829.3 181.9,829.3 179.0,830.4 177.3,831.1 175.0,832.7 176.7,834.5 177.9,836.1 179.5,837.9 180.0,840.0 179.2,842.2 177.9,844.2 176.5,845.0 175.0,847.0 174.1,849.1 175.9,850.4 175.1,852.7 175.0,855.0 985.0,855.0" fill="#fff" stroke="#101a10" stroke-width="1.25" stroke-linejoin="round"/>
<polygon points="729.0,208.0 731.1,206.9 732.4,206.3 734.0,205.5 736.0,205.0 737.7,205.5 739.8,204.7 741.9,204.7 744.0,205.1 744.8,205.7 747.0,206.0 748.2,206.4 749.4,207.5 751.0,209.0 749.4,211.0 748.3,212.3 747.0,214.0 745.5,214.6 743.1,215.6 742.0,216.6 740.4,216.1 737.6,216.2 736.0,215.5 734.5,215.0 733.5,214.0 731.4,213.5 730.4,211.8 730.4,210.1" fill="#f4f4f4" stroke="#101a10" stroke-width="1.1" stroke-linejoin="round"/>
<polygon points="635.8,301.0 637.3,299.7 638.1,298.3 640.0,297.5 642.6,297.1 644.9,297.2 647.0,297.0 647.4,298.6 647.3,301.0 644.6,301.1 643.4,302.6 641.0,303.0 639.7,302.6 637.4,302.0" fill="#f4f4f4" stroke="#101a10" stroke-width="1.1" stroke-linejoin="round"/>
<polygon points="667.4,316.0 669.5,315.5 670.9,315.8 673.3,314.9 675.0,315.0 676.7,315.0 679.3,315.7 680.6,316.3 682.8,316.5 682.6,319.2 682.0,321.0 679.7,320.8 678.3,320.6 675.7,320.7 674.2,320.9 672.0,321.0 670.2,320.5 667.5,319.5 667.7,317.2" fill="#f4f4f4" stroke="#101a10" stroke-width="1.1" stroke-linejoin="round"/>
<polygon points="592.0,455.0 594.1,454.1 595.8,454.4 598.0,453.5 599.7,454.4 602.3,455.5 604.6,456.1 606.0,457.0 604.9,459.1 604.0,460.5 602.0,460.1 599.8,459.8 598.5,460.1 596.0,459.5 594.6,458.2 593.5,456.1" fill="#f4f4f4" stroke="#101a10" stroke-width="1.1" stroke-linejoin="round"/>
<polygon points="719.0,537.5 721.4,537.9 722.4,536.6 725.5,536.6 727.0,536.0 728.8,537.1 731.0,537.7 734.1,538.5 736.1,539.8 737.8,540.2 740.0,541.0 739.1,542.6 738.0,544.0 735.5,543.6 733.6,543.0 731.5,542.3 730.3,542.9 728.0,542.0 725.8,541.2 723.5,541.3 722.5,541.3 720.0,540.5 719.5,539.0" fill="#f4f4f4" stroke="#101a10" stroke-width="1.1" stroke-linejoin="round"/>
<polygon points="731.0,551.0 732.9,551.2 735.2,551.7 737.0,552.0 738.3,553.0 740.0,554.7 741.9,557.2 743.5,559.0 745.0,560.0 745.5,561.4 746.9,563.4 748.0,565.0 748.8,567.2 750.0,569.0 748.5,569.2 746.4,570.1 745.0,570.0 744.0,568.7 742.0,567.4 740.4,565.9 739.1,564.7 738.0,563.0 736.5,560.7 735.0,559.5 733.5,558.3 732.0,556.0 731.6,554.3 731.5,552.8" fill="#f4f4f4" stroke="#101a10" stroke-width="1.1" stroke-linejoin="round"/>
<polygon points="656.0,502.0 658.1,501.6 659.5,501.1 661.0,501.0 662.2,502.0 664.5,503.5 663.3,504.2 661.2,505.0 660.0,505.5 658.5,503.7 656.8,503.2" fill="#f4f4f4" stroke="#101a10" stroke-width="1.1" stroke-linejoin="round"/>
<polygon points="662.0,479.0 663.5,478.6 665.3,478.4 667.0,478.5 667.9,479.8 669.1,481.2 670.0,483.0 667.5,484.1 666.0,485.0 664.9,483.9 663.0,483.0 662.8,481.3" fill="#f4f4f4" stroke="#101a10" stroke-width="1.1" stroke-linejoin="round"/>
<polygon points="749.0,612.0 751.5,611.0 752.5,617.0 751.0,624.0 749.0,622.0" fill="#fbbc10" stroke="#3a3010" stroke-width="1" stroke-linejoin="round"/>
<polygon points="745.0,650.0 750.0,646.5 756.0,651.0 757.0,655.0 750.0,654.0" fill="#fbbc10" stroke="#3a3010" stroke-width="1" stroke-linejoin="round"/>
<polygon points="745.0,662.0 751.0,660.0 749.0,666.0 752.0,676.0 746.0,677.0" fill="#fbbc10" stroke="#3a3010" stroke-width="1" stroke-linejoin="round"/>
<polygon points="361.0,264.0 366.0,261.0 371.0,262.0 369.0,266.0 363.0,268.0" fill="#111" stroke="#111" stroke-width="1"/>
<polygon points="454.0,372.0 459.0,371.0 461.0,374.0 456.0,375.5" fill="#111" stroke="#111" stroke-width="1"/>
<polygon points="664.6,279.5 669.0,278.4 673.0,279.4 669.0,281.0" fill="#111" stroke="#111" stroke-width="1"/>
<polygon points="657.0,300.0 659.5,300.0 659.5,302.5 657.0,302.5" fill="#111" stroke="#111" stroke-width="1"/>
<polygon points="580.0,426.5 583.0,426.0 584.0,428.5 581.0,429.0" fill="#111" stroke="#111" stroke-width="1"/>
<polygon points="596.0,427.5 600.0,426.5 602.0,429.0 599.0,431.0 597.0,430.0" fill="#111" stroke="#111" stroke-width="1"/>
<polygon points="612.0,435.0 617.0,434.5 620.0,436.5 625.0,435.5 629.0,437.5 633.0,437.0 634.0,439.5 628.0,440.0 622.0,439.0 617.0,438.5 613.0,437.5" fill="#111" stroke="#111" stroke-width="1"/>
<polygon points="648.0,451.0 651.0,450.0 651.0,453.0 648.0,454.0" fill="#111" stroke="#111" stroke-width="1"/>
<polygon points="676.0,459.0 684.0,457.5 690.0,458.0 690.0,460.0 682.0,460.5 676.0,461.0" fill="#111" stroke="#111" stroke-width="1"/>
<polygon points="222.4,126.5 226.0,126.0 228.0,128.5 225.0,130.0 222.0,129.0" fill="#111" stroke="#111" stroke-width="1"/>
<polygon points="133.0,150.0 138.0,149.0 141.0,152.0 137.0,154.5 133.0,153.0" fill="#111" stroke="#111" stroke-width="1"/>
<polyline points="166.0,801.0 171.0,798.5 177.0,802.0 182.0,806.0" fill="none" stroke="#0c1a12" stroke-width="1.6" stroke-linecap="round" stroke-linejoin="round"/>
<polyline points="167.0,806.0 173.0,809.0 178.0,811.0" fill="none" stroke="#0c1a12" stroke-width="1.6" stroke-linecap="round" stroke-linejoin="round"/>
<polyline points="170.0,803.0 175.0,806.0" fill="none" stroke="#0c1a12" stroke-width="1.6" stroke-linecap="round" stroke-linejoin="round"/>
<polyline points="177.0,820.5 184.0,818.0 190.0,820.0" fill="none" stroke="#0c1a12" stroke-width="1.6" stroke-linecap="round" stroke-linejoin="round"/>
<polyline points="177.0,829.0 185.0,826.5 192.0,826.0" fill="none" stroke="#0c1a12" stroke-width="1.6" stroke-linecap="round" stroke-linejoin="round"/>
<polyline points="168.0,813.0 172.0,816.0" fill="none" stroke="#0c1a12" stroke-width="1.6" stroke-linecap="round" stroke-linejoin="round"/>
<polyline points="240.0,746.5 245.0,745.0 250.0,746.5" fill="none" stroke="#0c1a12" stroke-width="1.6" stroke-linecap="round" stroke-linejoin="round"/>
<polyline points="329.0,747.5 330.0,755.0 328.0,762.0 324.5,767.5" fill="none" stroke="#0c1a12" stroke-width="1.6" stroke-linecap="round" stroke-linejoin="round"/>
<polyline points="266.0,792.0 262.0,798.0 261.0,805.0 263.0,812.0" fill="none" stroke="#0c1a12" stroke-width="1.6" stroke-linecap="round" stroke-linejoin="round"/>
<polyline points="268.0,818.0 274.0,814.0 284.0,810.0" fill="none" stroke="#0c1a12" stroke-width="1.6" stroke-linecap="round" stroke-linejoin="round"/>
<polyline points="268.0,818.0 276.0,820.5 284.0,819.0" fill="none" stroke="#0c1a12" stroke-width="1.6" stroke-linecap="round" stroke-linejoin="round"/>
<polyline points="295.0,818.0 301.0,820.0 307.0,819.0" fill="none" stroke="#0c1a12" stroke-width="1.6" stroke-linecap="round" stroke-linejoin="round"/>
<polyline points="298.0,816.0 299.0,822.0" fill="none" stroke="#0c1a12" stroke-width="1.6" stroke-linecap="round" stroke-linejoin="round"/>
<polyline points="356.0,753.5 357.0,755.0" fill="none" stroke="#0c1a12" stroke-width="1.6" stroke-linecap="round" stroke-linejoin="round"/>
<polyline points="394.0,781.0 398.0,783.0 401.0,786.5" fill="none" stroke="#0c1a12" stroke-width="1.6" stroke-linecap="round" stroke-linejoin="round"/>
<polyline points="479.0,782.5 484.0,781.0 489.0,780.5" fill="none" stroke="#0c1a12" stroke-width="1.6" stroke-linecap="round" stroke-linejoin="round"/>
<polyline points="514.0,787.5 517.0,789.0" fill="none" stroke="#0c1a12" stroke-width="1.6" stroke-linecap="round" stroke-linejoin="round"/>
<polyline points="532.0,775.0 538.0,773.0 547.0,771.5" fill="none" stroke="#0c1a12" stroke-width="1.6" stroke-linecap="round" stroke-linejoin="round"/>
<polyline points="540.0,772.0 546.0,774.0" fill="none" stroke="#0c1a12" stroke-width="1.6" stroke-linecap="round" stroke-linejoin="round"/>
<polyline points="574.0,787.5 577.0,790.0" fill="none" stroke="#0c1a12" stroke-width="1.6" stroke-linecap="round" stroke-linejoin="round"/>
<polyline points="349.5,804.5 351.0,802.5" fill="none" stroke="#0c1a12" stroke-width="1.6" stroke-linecap="round" stroke-linejoin="round"/>
<polyline points="588.0,829.0 590.0,831.0" fill="none" stroke="#0c1a12" stroke-width="1.6" stroke-linecap="round" stroke-linejoin="round"/>
<polyline points="336.0,839.5 339.0,840.5" fill="none" stroke="#0c1a12" stroke-width="1.6" stroke-linecap="round" stroke-linejoin="round"/>
<polyline points="344.0,845.0 351.0,847.5" fill="none" stroke="#0c1a12" stroke-width="1.6" stroke-linecap="round" stroke-linejoin="round"/>
<polyline points="641.0,779.0 645.0,779.5 646.0,782.5" fill="none" stroke="#0c1a12" stroke-width="1.6" stroke-linecap="round" stroke-linejoin="round"/>
<polyline points="749.0,804.0 755.0,804.5 761.0,805.0" fill="none" stroke="#0c1a12" stroke-width="1.6" stroke-linecap="round" stroke-linejoin="round"/>
<polyline points="779.0,820.5 785.0,822.0" fill="none" stroke="#0c1a12" stroke-width="1.6" stroke-linecap="round" stroke-linejoin="round"/>
<polyline points="779.5,830.0 780.0,834.0 783.0,838.0" fill="none" stroke="#0c1a12" stroke-width="1.6" stroke-linecap="round" stroke-linejoin="round"/>
<polyline points="785.5,839.5 787.0,841.0" fill="none" stroke="#0c1a12" stroke-width="1.6" stroke-linecap="round" stroke-linejoin="round"/>
<polyline points="846.0,818.0 849.0,823.0 851.0,829.0 852.0,833.0" fill="none" stroke="#0c1a12" stroke-width="1.6" stroke-linecap="round" stroke-linejoin="round"/>
<polyline points="856.0,836.0 857.5,840.0" fill="none" stroke="#0c1a12" stroke-width="1.6" stroke-linecap="round" stroke-linejoin="round"/>
<polyline points="487.5,173.0 488.5,174.0" fill="none" stroke="#0c1a12" stroke-width="1.6" stroke-linecap="round" stroke-linejoin="round"/>
<polyline points="95.0,131.0 110.0,126.5 127.0,121.0" fill="none" stroke="#0c1a12" stroke-width="1.6" stroke-linecap="round" stroke-linejoin="round"/>
<polyline points="96.0,142.0 112.0,137.0 131.0,133.5" fill="none" stroke="#0c1a12" stroke-width="1.6" stroke-linecap="round" stroke-linejoin="round"/>
<polyline points="107.0,148.0 118.0,144.0 128.0,141.5" fill="none" stroke="#0c1a12" stroke-width="1.6" stroke-linecap="round" stroke-linejoin="round"/>
<polyline points="104.0,153.0 115.0,150.0 125.0,147.5" fill="none" stroke="#0c1a12" stroke-width="1.6" stroke-linecap="round" stroke-linejoin="round"/>
<polyline points="760.5,332.5 762.0,333.5" fill="none" stroke="#0c1a12" stroke-width="1.6" stroke-linecap="round" stroke-linejoin="round"/>
<polyline points="863.0,148.0 868.0,151.0 874.0,150.0" fill="none" stroke="#0c1a12" stroke-width="1.6" stroke-linecap="round" stroke-linejoin="round"/>
<polyline points="722.0,196.0 728.0,199.0 733.0,201.0" fill="none" stroke="#0c1a12" stroke-width="1.6" stroke-linecap="round" stroke-linejoin="round"/>
<polyline points="748.0,199.0 757.0,199.5 766.0,200.0" fill="none" stroke="#0c1a12" stroke-width="1.6" stroke-linecap="round" stroke-linejoin="round"/>
<polyline points="660.5,207.0 661.0,209.0" fill="none" stroke="#0c1a12" stroke-width="1.6" stroke-linecap="round" stroke-linejoin="round"/>
<polyline points="687.0,206.0 690.0,208.5" fill="none" stroke="#0c1a12" stroke-width="1.6" stroke-linecap="round" stroke-linejoin="round"/>
<polyline points="806.0,214.0 807.0,216.0" fill="none" stroke="#0c1a12" stroke-width="1.6" stroke-linecap="round" stroke-linejoin="round"/>
<polyline points="952.0,224.0 956.0,225.0" fill="none" stroke="#0c1a12" stroke-width="1.6" stroke-linecap="round" stroke-linejoin="round"/>
<polyline points="951.0,238.0 955.0,241.0" fill="none" stroke="#0c1a12" stroke-width="1.6" stroke-linecap="round" stroke-linejoin="round"/>
<g fill="none" stroke-linejoin="miter"><path stroke="#000" stroke-width="1.35" stroke-opacity="0.64" d="M271.7 102.5L283.3 119.1M284.8 121.3L280.4 118.4L283.3 119.1L283.6 116.1ZM307.8 99.2L321.0 122.0M322.6 124.6L317.9 121.0L321.0 122.0L321.7 118.7ZM345.5 98.8L357.4 122.3M358.8 125.0L354.3 121.1L357.4 122.3L358.3 119.1ZM382.7 98.6L394.1 122.4M395.5 125.2L391.1 121.1L394.1 122.4L395.1 119.2ZM420.6 99.6L430.4 121.6M431.5 124.2L427.4 120.3L430.4 121.6L431.3 118.5ZM87.1 141.1L98.3 154.5M99.9 156.4L95.6 154.1L98.3 154.5L98.4 151.7ZM125.3 142.6L134.1 153.1M135.6 154.9L131.6 152.8L134.1 153.1L134.2 150.6ZM162.3 142.6L171.1 153.1M172.5 154.9L168.6 152.8L171.1 153.1L171.1 150.6ZM199.1 142.5L208.1 153.3M209.6 155.0L205.6 152.9L208.1 153.3L208.2 150.7ZM234.3 139.8L246.7 155.7M248.3 157.8L243.8 155.1L246.7 155.7L246.9 152.7ZM269.8 136.7L284.9 158.3M286.7 160.8L281.7 157.6L284.9 158.3L285.3 155.0ZM307.8 136.0L321.0 158.9M322.6 161.5L317.9 157.8L321.0 158.9L321.7 155.6ZM344.0 132.8L358.8 161.8M360.3 164.8L355.3 160.4L358.8 161.8L359.7 158.2ZM381.3 132.6L395.4 161.9M396.9 165.0L392.0 160.5L395.4 161.9L396.4 158.3ZM420.6 136.4L430.4 158.4M431.5 161.1L427.4 157.1L430.4 158.4L431.3 155.4ZM458.8 139.4L466.1 155.8M467.2 158.1L463.6 154.6L466.1 155.8L467.0 153.1ZM497.5 140.1L501.8 155.1M502.4 157.4L499.5 153.7L501.8 155.1L502.9 152.7ZM536.2 141.1L537.4 154.2M537.6 156.5L535.6 152.5L537.4 154.2L538.9 152.2ZM82.9 171.1L102.1 197.4M104.1 200.2L98.4 196.6L102.1 197.4L102.4 193.7ZM121.8 173.7L137.3 195.1M139.1 197.6L134.0 194.4L137.3 195.1L137.6 191.8ZM159.0 173.6L174.1 195.2M175.8 197.7L170.8 194.4L174.1 195.2L174.5 191.9ZM197.8 176.3L209.4 192.8M210.9 195.0L206.5 192.1L209.4 192.8L209.7 189.9ZM232.4 173.9L248.3 195.0M250.2 197.4L245.0 194.3L248.3 195.0L248.6 191.6ZM270.0 173.5L284.8 195.3M286.5 197.8L281.5 194.5L284.8 195.3L285.2 192.0ZM306.2 170.1L322.5 198.3M324.2 201.2L318.9 197.1L322.5 198.3L323.2 194.6ZM343.7 169.8L359.0 198.5M360.6 201.5L355.5 197.2L359.0 198.5L359.9 194.9ZM381.5 169.4L395.3 198.9M396.7 201.9L391.8 197.4L395.3 198.9L396.3 195.3ZM418.7 169.2L432.0 198.9M433.4 202.1L428.6 197.4L432.0 198.9L433.1 195.4ZM457.0 172.2L467.7 196.3M469.0 199.1L464.7 194.9L467.7 196.3L468.8 193.1ZM495.3 175.3L503.5 193.6M504.6 196.0L500.8 192.4L503.5 193.6L504.4 190.8ZM958.2 183.8L931.5 187.1M928.5 187.5L933.7 184.6L931.5 187.1L934.3 189.0ZM995.3 184.6L968.4 186.5M965.3 186.7L970.8 184.1L968.4 186.5L971.1 188.5ZM84.8 206.8L100.6 235.3M102.2 238.3L97.0 234.0L100.6 235.3L101.4 231.6ZM123.3 209.7L136.1 232.7M137.6 235.4L133.0 231.6L136.1 232.7L136.8 229.5ZM160.3 209.7L173.1 232.7M174.5 235.4L169.9 231.6L173.1 232.7L173.8 229.5ZM196.8 209.9L210.4 232.5M211.9 235.1L207.2 231.5L210.4 232.5L211.0 229.2ZM232.9 210.5L248.0 232.1M249.7 234.6L244.7 231.3L248.0 232.1L248.4 228.8ZM268.2 207.6L286.4 234.6M288.3 237.4L282.8 233.7L286.4 234.6L286.9 230.9ZM305.9 207.1L322.7 235.0M324.5 237.9L319.1 233.9L322.7 235.0L323.4 231.4ZM342.1 203.8L360.4 237.9M362.2 241.2L356.6 236.5L360.4 237.9L361.4 233.9ZM379.8 203.4L396.8 238.2M398.4 241.6L393.0 236.7L396.8 238.2L397.9 234.3ZM417.5 206.7L433.0 235.4M434.6 238.4L429.5 234.1L433.0 235.4L433.8 231.7ZM455.9 211.3L468.6 231.3M470.1 233.8L465.5 230.4L468.6 231.3L469.1 228.2ZM568.8 210.0L577.8 232.3M578.9 235.0L575.0 230.9L577.8 232.3L578.9 229.3ZM606.1 205.2L614.6 236.6M615.5 239.9L611.5 234.6L614.6 236.6L616.2 233.3ZM646.7 204.6L648.6 237.1M648.8 240.5L645.9 234.4L648.6 237.1L650.9 234.2ZM686.7 204.7L683.1 237.0M682.7 240.4L680.9 234.0L683.1 237.0L685.8 234.5ZM730.0 206.6L714.9 235.4M713.3 238.4L714.0 231.8L714.9 235.4L718.4 234.1ZM771.4 209.9L748.2 232.7M745.8 235.1L748.4 229.0L748.2 232.7L751.9 232.5ZM814.0 211.9L780.4 231.3M777.1 233.2L781.7 227.4L780.4 231.3L784.4 232.1ZM852.3 214.8L816.2 228.9M812.7 230.3L818.1 225.2L816.2 228.9L820.1 230.3ZM889.9 216.9L852.6 227.2M849.0 228.2L854.8 223.7L852.6 227.2L856.3 229.0ZM927.4 219.2L889.1 225.3M885.4 225.9L891.7 222.1L889.1 225.3L892.6 227.5ZM961.3 220.9L928.8 223.9M925.4 224.2L931.4 221.1L928.8 223.9L931.8 226.1ZM85.6 243.2L99.9 272.5M101.4 275.6L96.4 271.1L99.9 272.5L100.9 268.9ZM124.0 246.2L135.6 269.9M136.9 272.6L132.5 268.6L135.6 269.9L136.5 266.7ZM160.7 246.3L172.7 269.8M174.1 272.5L169.6 268.6L172.7 269.8L173.5 266.6ZM197.0 246.7L210.2 269.5M211.7 272.1L207.0 268.5L210.2 269.5L210.9 266.2ZM233.1 247.2L247.8 269.1M249.5 271.6L244.6 268.2L247.8 269.1L248.3 265.8ZM267.9 244.7L286.6 271.3M288.6 274.1L283.0 270.5L286.6 271.3L287.0 267.6ZM305.4 244.3L323.1 271.6M325.0 274.5L319.5 270.6L323.1 271.6L323.7 267.9ZM340.9 241.4L361.4 274.2M363.4 277.4L357.5 273.1L361.4 274.2L362.1 270.2ZM378.3 241.1L397.9 274.5M399.9 277.7L394.0 273.2L397.9 274.5L398.8 270.4ZM416.3 244.3L434.0 271.6M435.8 274.5L430.4 270.6L434.0 271.6L434.5 267.9ZM452.4 244.8L471.6 271.2M473.6 274.0L467.9 270.4L471.6 271.2L471.9 267.5ZM489.5 244.8L508.4 271.3M510.4 274.0L504.8 270.4L508.4 271.3L508.8 267.6ZM525.3 241.6L546.4 274.1M548.5 277.2L542.4 273.0L546.4 274.1L547.0 270.0ZM565.8 239.7L580.5 275.6M581.9 279.1L576.8 273.8L580.5 275.6L581.8 271.7ZM607.8 238.4L613.2 276.7M613.8 280.4L610.1 274.0L613.2 276.7L615.5 273.3ZM651.2 235.1L644.9 279.6M644.3 283.7L642.4 275.8L644.9 279.6L648.4 276.7ZM694.8 237.1L676.3 278.0M674.6 281.7L674.9 273.7L676.3 278.0L680.4 276.1ZM737.7 240.8L708.3 274.8M705.6 278.0L708.3 270.3L708.3 274.8L712.8 274.2ZM779.3 246.2L741.4 270.4M737.9 272.6L742.6 266.0L741.4 270.4L745.9 271.1ZM818.5 250.9L776.4 266.5M772.6 267.9L778.6 262.5L776.4 266.5L780.6 268.1ZM853.2 254.6L815.5 263.3M811.8 264.2L817.8 260.0L815.5 263.3L819.1 265.3ZM890.6 257.2L852.1 261.2M848.3 261.6L854.8 258.2L852.1 261.2L855.4 263.6ZM924.4 258.8L891.8 259.9M888.4 260.0L894.5 257.3L891.8 259.9L894.7 262.3ZM86.6 283.3L99.0 306.6M100.4 309.3L95.8 305.4L99.0 306.6L99.8 303.3ZM123.5 283.3L135.9 306.6M137.4 309.3L132.8 305.4L135.9 306.6L136.7 303.3ZM160.0 283.5L173.2 306.4M174.8 309.0L170.1 305.3L173.2 306.4L173.9 303.1ZM195.9 284.2L211.0 305.8M212.8 308.3L207.8 305.1L211.0 305.8L211.4 302.5ZM232.4 284.5L248.3 305.6M250.2 308.0L245.0 304.9L248.3 305.6L248.6 302.3ZM267.2 282.1L287.2 307.8M289.3 310.4L283.6 307.1L287.2 307.8L287.5 304.0ZM302.7 279.1L325.5 310.4M327.7 313.5L321.4 309.5L325.5 310.4L325.9 306.3ZM339.4 279.3L362.7 310.2M364.9 313.2L358.6 309.4L362.7 310.2L363.0 306.1ZM376.6 279.1L399.4 310.4M401.6 313.5L395.3 309.5L399.4 310.4L399.8 306.3ZM413.0 279.5L436.8 310.1M439.1 313.0L432.8 309.3L436.8 310.1L437.1 305.9ZM449.8 279.6L473.8 310.0M476.2 313.0L469.8 309.3L473.8 310.0L474.1 305.9ZM485.5 276.4L511.9 312.8M514.4 316.1L507.5 311.8L511.9 312.8L512.4 308.3ZM524.3 275.3L547.4 313.8M549.5 317.3L543.1 312.4L547.4 313.8L548.2 309.3ZM565.5 273.2L580.8 315.4M582.2 319.3L576.9 313.3L580.8 315.4L582.5 311.2ZM609.9 271.8L611.5 316.7M611.7 320.8L608.4 313.4L611.5 316.7L614.4 313.2ZM655.9 269.7L640.9 318.6M639.6 322.9L638.9 314.3L640.9 318.6L645.0 316.1ZM697.1 275.1L674.4 313.9M672.3 317.4L673.5 309.4L674.4 313.9L678.7 312.5ZM772.7 288.8L747.3 302.3M744.5 303.8L748.5 299.0L747.3 302.3L750.7 303.1ZM809.2 293.4L784.8 298.6M781.9 299.2L786.7 296.0L784.8 298.6L787.6 300.2ZM846.5 297.0L821.5 295.7M818.5 295.5L824.0 293.7L821.5 295.7L823.8 298.0ZM84.9 321.2L100.4 342.6M102.1 345.1L97.1 341.9L100.4 342.6L100.7 339.3ZM121.8 321.2L137.3 342.6M139.1 345.1L134.0 341.9L137.3 342.6L137.6 339.3ZM158.3 321.6L174.6 342.3M176.5 344.7L171.3 341.7L174.6 342.3L174.8 339.0ZM194.7 322.0L212.0 342.0M214.0 344.3L208.7 341.5L212.0 342.0L212.0 338.6ZM228.8 320.2L251.4 343.6M253.8 346.1L247.7 343.4L251.4 343.6L251.3 339.9ZM265.6 320.3L288.5 343.5M290.9 346.0L284.7 343.3L288.5 343.5L288.3 339.8ZM300.7 317.6L327.1 345.9M329.7 348.7L323.0 345.6L327.1 345.9L327.0 341.8ZM337.1 318.1L364.5 345.5M367.2 348.2L360.4 345.3L364.5 345.5L364.3 341.4ZM374.1 318.1L401.5 345.5M404.1 348.2L397.3 345.3L401.5 345.5L401.2 341.4ZM408.4 316.1L440.7 347.3M443.7 350.2L436.2 347.1L440.7 347.3L440.4 342.8ZM445.4 316.1L477.7 347.3M480.6 350.2L473.2 347.1L477.7 347.3L477.3 342.8ZM482.9 315.5L514.1 347.8M517.0 350.8L509.6 347.5L514.1 347.8L513.9 343.3ZM522.1 313.6L549.2 349.4M551.7 352.7L544.7 348.5L549.2 349.4L549.5 344.9ZM564.3 310.7L581.8 351.8M583.4 355.6L577.7 349.9L581.8 351.8L583.2 347.5ZM609.3 305.4L612.0 356.5M612.3 360.9L608.6 353.1L612.0 356.5L615.0 352.8ZM652.6 305.8L643.7 356.2M642.9 360.5L641.2 352.1L643.7 356.2L647.5 353.2ZM692.5 313.4L678.3 349.4M676.9 352.9L676.9 345.6L678.3 349.4L682.0 347.6ZM82.8 359.9L102.0 378.1M104.2 380.2L98.6 377.9L102.0 378.1L101.7 374.7ZM119.8 359.9L138.9 378.1M141.1 380.2L135.6 377.9L138.9 378.1L138.6 374.7ZM156.7 359.9L175.9 378.1M178.1 380.2L172.5 377.9L175.9 378.1L175.6 374.7ZM193.2 360.4L213.2 377.7M215.5 379.7L209.8 377.7L213.2 377.7L212.7 374.4ZM227.4 358.6L252.5 379.3M255.2 381.5L248.8 379.4L252.5 379.3L252.0 375.6ZM264.4 358.6L289.5 379.3M292.1 381.5L285.8 379.4L289.5 379.3L288.9 375.6ZM298.7 356.6L328.8 381.0M331.7 383.4L324.7 381.2L328.8 381.0L328.1 377.0ZM335.1 357.4L366.2 380.4M369.2 382.7L362.1 380.8L366.2 380.4L365.4 376.4ZM371.9 357.5L403.2 380.3M406.3 382.5L399.1 380.7L403.2 380.3L402.4 376.3ZM405.9 356.1L442.8 381.6M446.2 384.0L438.4 382.2L442.8 381.6L441.8 377.2ZM442.4 356.7L480.1 381.1M483.6 383.4L475.6 381.8L480.1 381.1L478.9 376.8ZM81.3 398.7L103.2 413.4M105.7 415.1L99.9 413.9L103.2 413.4L102.3 410.2ZM118.3 398.7L140.1 413.4M142.6 415.1L136.8 413.9L140.1 413.4L139.3 410.2ZM155.3 398.6L177.0 413.5M179.5 415.2L173.7 413.9L177.0 413.5L176.2 410.3ZM192.3 398.5L213.9 413.6M216.4 415.3L210.6 414.0L213.9 413.6L213.1 410.3ZM226.7 396.5L253.2 415.4M255.9 417.3L249.5 415.8L253.2 415.4L252.3 411.7ZM260.8 394.7L292.6 416.9M295.7 419.1L288.5 417.4L292.6 416.9L291.6 412.9ZM297.4 395.3L329.9 416.4M333.0 418.5L325.8 417.0L329.9 416.4L328.8 412.4ZM333.9 396.0L367.1 415.9M370.4 417.8L363.1 416.7L367.1 415.9L365.9 412.0ZM368.0 394.4L406.6 417.3M410.2 419.4L402.2 418.2L406.6 417.3L405.3 413.0ZM402.1 392.8L446.2 418.8M450.0 421.0L441.5 419.7L446.2 418.8L444.7 414.2ZM439.1 392.7L483.1 418.8M486.9 421.1L478.4 419.8L483.1 418.8L481.7 414.3ZM80.2 437.4L104.0 448.8M106.8 450.1L100.8 449.7L104.0 448.8L102.7 445.7ZM117.2 437.4L141.0 448.8M143.7 450.1L137.8 449.7L141.0 448.8L139.7 445.7ZM154.4 436.9L177.7 449.3M180.4 450.7L174.5 450.0L177.7 449.3L176.5 446.1ZM189.1 434.2L216.7 451.5M219.6 453.3L213.0 452.1L216.7 451.5L215.7 447.9ZM226.0 434.4L253.7 451.4M256.6 453.2L250.1 452.0L253.7 451.4L252.6 447.8ZM260.1 432.7L293.2 452.9M296.4 454.9L289.1 453.6L293.2 452.9L292.0 449.0ZM296.8 433.1L330.3 452.5M333.6 454.4L326.3 453.4L330.3 452.5L329.0 448.6ZM330.4 432.4L370.2 453.2M373.9 455.1L365.8 454.3L370.2 453.2L368.6 449.0ZM366.9 433.4L407.6 452.4M411.3 454.1L403.3 453.7L407.6 452.4L405.8 448.2ZM400.9 431.9L447.2 453.8M451.2 455.7L442.6 455.1L447.2 453.8L445.3 449.3ZM435.3 429.7L486.8 455.9M490.7 457.9L482.1 457.1L486.8 455.9L485.0 451.4ZM472.9 428.5L523.2 456.9M527.0 459.1L518.4 457.9L523.2 456.9L521.6 452.3ZM507.5 426.1L562.6 459.2M566.3 461.5L557.8 460.1L562.6 459.2L561.1 454.6ZM541.1 425.3L602.8 460.1M606.6 462.3L598.0 461.1L602.8 460.1L601.2 455.6ZM583.1 429.7L634.6 455.9M638.5 457.9L629.9 457.1L634.6 455.9L632.8 451.4ZM79.9 475.1L104.3 485.0M107.1 486.2L101.2 486.1L104.3 485.0L102.8 482.0ZM116.8 475.1L141.3 485.0M144.1 486.2L138.1 486.1L141.3 485.0L139.8 482.0ZM151.2 472.9L180.6 486.9M183.6 488.4L177.0 488.0L180.6 486.9L179.1 483.5ZM188.8 471.7L217.0 487.9M219.9 489.6L213.3 488.7L217.0 487.9L215.8 484.4ZM225.9 471.4L253.8 488.2M256.7 489.9L250.1 488.8L253.8 488.2L252.7 484.6ZM260.0 469.7L293.2 489.7M296.5 491.6L289.2 490.4L293.2 489.7L292.0 485.7ZM296.7 470.2L330.4 489.3M333.7 491.1L326.4 490.1L330.4 489.3L329.1 485.4ZM330.3 469.5L370.3 489.9M374.0 491.8L366.0 491.1L370.3 489.9L368.7 485.7ZM366.9 470.1L407.5 489.4M411.3 491.2L403.2 490.7L407.5 489.4L405.8 485.2ZM400.7 469.2L447.4 490.3M451.4 492.1L442.8 491.7L447.4 490.3L445.4 485.9ZM434.8 467.7L487.2 491.8M491.2 493.6L482.6 493.2L487.2 491.8L485.3 487.3ZM469.0 465.8L526.9 493.6M530.9 495.5L522.3 494.9L526.9 493.6L525.1 489.1ZM503.4 463.6L566.5 495.7M570.4 497.7L561.8 496.9L566.5 495.7L564.7 491.2ZM537.3 462.4L606.5 496.9M610.4 498.9L601.8 498.2L606.5 496.9L604.7 492.5ZM572.9 465.3L644.6 494.3M648.7 496.0L640.1 495.9L644.6 494.3L642.5 490.0ZM611.3 471.6L680.0 488.7M684.2 489.7L675.7 490.9L680.0 488.7L677.2 484.7ZM80.0 511.8L104.2 522.1M107.0 523.3L101.1 523.1L104.2 522.1L102.8 519.1ZM116.9 511.8L141.2 522.1M144.0 523.3L138.0 523.1L141.2 522.1L139.8 519.1ZM151.2 509.6L180.5 523.9M183.6 525.4L176.9 524.9L180.5 523.9L179.1 520.5ZM188.5 509.1L217.2 524.4M220.2 526.0L213.6 525.2L217.2 524.4L215.9 520.9ZM225.7 508.6L254.0 524.7M256.9 526.4L250.3 525.5L254.0 524.7L252.8 521.2ZM259.8 506.9L293.4 526.3M296.7 528.2L289.4 527.1L293.4 526.3L292.1 522.4ZM296.5 507.4L330.6 525.9M333.9 527.7L326.5 526.8L330.6 525.9L329.2 522.0ZM330.0 507.0L370.6 526.3M374.3 528.0L366.2 527.5L370.6 526.3L368.8 522.1ZM366.5 507.9L407.9 525.5M411.7 527.1L403.6 526.9L407.9 525.5L405.9 521.4ZM400.3 507.1L447.7 526.3M451.8 527.9L443.2 527.9L447.7 526.3L445.6 522.0ZM434.0 506.4L487.9 527.1M492.0 528.7L483.4 528.8L487.9 527.1L485.7 522.8ZM471.0 506.1L524.8 527.3M528.9 528.9L520.2 529.0L524.8 527.3L522.6 523.0ZM505.3 504.1L564.5 529.2M568.5 530.9L559.9 530.8L564.5 529.2L562.4 524.9ZM538.9 503.7L604.7 529.7M608.8 531.4L600.2 531.4L604.7 529.7L602.6 525.4ZM571.3 506.9L646.0 527.0M650.3 528.1L641.7 529.1L646.0 527.0L643.4 522.9ZM604.3 509.9L686.9 524.4M691.2 525.2L682.8 527.0L686.9 524.4L683.9 520.7ZM647.1 517.5L717.9 517.5M722.3 517.5L714.3 520.7L717.9 517.5L714.3 514.3ZM80.2 548.2L104.1 559.3M106.8 560.6L100.9 560.3L104.1 559.3L102.7 556.3ZM117.1 548.2L141.0 559.3M143.8 560.6L137.8 560.3L141.0 559.3L139.7 556.3ZM151.6 545.8L180.2 561.4M183.2 563.0L176.6 562.2L180.2 561.4L178.9 557.8ZM188.6 545.7L217.1 561.5M220.1 563.1L213.5 562.3L217.1 561.5L215.9 557.9ZM225.9 545.1L253.8 561.9M256.7 563.7L250.1 562.6L253.8 561.9L252.7 558.3ZM259.8 543.8L293.4 563.1M296.7 565.0L289.4 564.0L293.4 563.1L292.1 559.2ZM296.7 543.9L330.4 563.1M333.7 564.9L326.4 563.9L330.4 563.1L329.1 559.2ZM332.8 545.6L368.0 561.7M371.5 563.2L364.1 562.9L368.0 561.7L366.4 557.9ZM366.6 544.7L407.8 562.5M411.6 564.1L403.5 563.9L407.8 562.5L405.9 558.4ZM403.0 546.0L445.2 561.4M449.1 562.8L441.0 563.0L445.2 561.4L443.1 557.4ZM436.6 545.6L485.2 561.8M489.4 563.2L480.8 563.7L485.2 561.8L482.8 557.6ZM470.4 544.9L525.3 562.6M529.5 563.9L520.9 564.5L525.3 562.6L522.9 558.4ZM507.3 544.9L562.3 562.6M566.5 563.9L557.9 564.5L562.3 562.6L559.8 558.4ZM541.0 544.5L602.5 563.0M606.7 564.3L598.2 565.0L602.5 563.0L600.0 558.9ZM574.1 546.3L643.2 561.6M647.5 562.5L639.0 563.9L643.2 561.6L640.4 557.7ZM607.4 548.0L683.8 560.1M688.1 560.8L679.7 562.7L683.8 560.1L680.7 556.4ZM643.9 552.7L721.1 555.9M725.5 556.1L717.4 559.0L721.1 555.9L717.7 552.6ZM684.1 556.4L754.8 552.7M759.2 552.4L751.4 556.0L754.8 552.7L751.0 549.7ZM80.3 584.7L103.9 596.5M106.7 597.8L100.7 597.4L103.9 596.5L102.7 593.4ZM117.3 584.7L140.9 596.5M143.6 597.8L137.7 597.4L140.9 596.5L139.6 593.4ZM154.5 584.1L177.6 596.9M180.3 598.4L174.3 597.7L177.6 596.9L176.5 593.8ZM188.4 583.0L217.3 598.0M220.3 599.6L213.7 598.9L217.3 598.0L216.0 594.5ZM225.1 583.6L254.5 597.5M257.5 599.0L250.9 598.6L254.5 597.5L253.0 594.1ZM261.8 584.0L291.6 597.2M294.7 598.6L288.0 598.3L291.6 597.2L290.0 593.8ZM295.6 583.1L331.3 598.0M334.8 599.4L327.4 599.3L331.3 598.0L329.6 594.3ZM332.4 583.5L368.4 597.7M371.9 599.1L364.5 599.1L368.4 597.7L366.6 594.0ZM369.0 584.4L405.6 597.0M409.2 598.2L401.8 598.6L405.6 597.0L403.6 593.4ZM402.5 584.5L445.7 596.9M449.6 598.0L441.6 598.9L445.7 596.9L443.2 593.1ZM439.2 585.3L482.8 596.2M486.8 597.2L478.8 598.3L482.8 596.2L480.2 592.5ZM473.0 584.6L522.7 596.9M526.9 597.9L518.4 599.1L522.7 596.9L519.9 592.9ZM506.7 584.1L562.8 597.5M567.1 598.5L558.6 599.7L562.8 597.5L560.1 593.5ZM543.5 584.7L599.9 597.0M604.2 597.9L595.7 599.3L599.9 597.0L597.1 593.1ZM577.2 584.3L640.1 597.3M644.4 598.2L635.9 599.7L640.1 597.3L637.2 593.5ZM610.5 586.2L680.6 595.8M685.0 596.4L676.6 598.5L680.6 595.8L677.5 592.1ZM647.1 590.0L717.9 592.4M722.3 592.5L714.2 595.5L717.9 592.4L714.4 589.1ZM684.2 594.6L754.7 588.4M759.1 588.0L751.4 591.9L754.7 588.4L750.9 585.5ZM728.6 601.0L784.4 582.9M788.6 581.5L781.9 587.1L784.4 582.9L780.0 581.0ZM80.6 621.1L103.7 633.7M106.4 635.2L100.5 634.5L103.7 633.7L102.6 630.6ZM117.5 621.1L140.7 633.7M143.4 635.2L137.4 634.5L140.7 633.7L139.6 630.6ZM154.4 621.2L177.7 633.6M180.4 635.1L174.5 634.4L177.7 633.6L176.5 630.5ZM190.9 622.2L215.0 632.9M217.8 634.1L211.8 633.9L215.0 632.9L213.6 629.9ZM224.4 622.0L255.0 633.1M258.2 634.3L251.5 634.5L255.0 633.1L253.2 629.9ZM261.1 622.9L292.2 632.4M295.4 633.4L288.8 634.0L292.2 632.4L290.2 629.2ZM294.8 622.3L332.0 633.0M335.6 634.0L328.3 634.8L332.0 633.0L329.8 629.5ZM331.7 622.5L369.0 632.8M372.6 633.8L365.3 634.6L369.0 632.8L366.8 629.3ZM368.4 623.2L406.1 632.3M409.8 633.1L402.5 634.2L406.1 632.3L403.7 628.9ZM402.1 623.1L446.0 632.4M450.0 633.2L442.1 634.6L446.0 632.4L443.3 628.8ZM438.9 623.5L483.0 632.0M487.1 632.8L479.1 634.3L483.0 632.0L480.3 628.5ZM472.6 623.0L522.9 632.5M527.3 633.3L518.8 635.0L522.9 632.5L520.0 628.7ZM509.5 623.3L559.9 632.2M564.3 633.0L555.8 634.7L559.9 632.2L556.9 628.4ZM543.3 622.8L600.1 632.8M604.4 633.5L596.0 635.3L600.1 632.8L597.1 629.0ZM580.0 623.8L637.2 631.9M641.6 632.5L633.2 634.5L637.2 631.9L634.1 628.2ZM613.6 624.1L677.5 631.6M681.9 632.2L673.5 634.4L677.5 631.6L674.3 628.0ZM650.4 628.1L714.6 628.1M719.0 628.1L711.0 631.4L714.6 628.1L711.0 624.9ZM687.6 632.8L751.3 624.1M755.7 623.5L748.2 627.8L751.3 624.1L747.3 621.5ZM80.1 659.0L104.2 669.8M106.9 671.0L101.0 670.8L104.2 669.8L102.8 666.7ZM117.0 659.0L141.1 669.8M143.9 671.0L137.9 670.8L141.1 669.8L139.7 666.7ZM153.4 660.5L178.5 668.6M181.4 669.6L175.4 670.0L178.5 668.6L176.8 665.8ZM189.9 662.2L215.8 667.3M218.8 667.8L212.9 669.0L215.8 667.3L213.8 664.6ZM223.4 662.9L255.8 666.7M259.2 667.1L252.7 668.9L255.8 666.7L253.3 663.9ZM257.0 663.9L295.7 665.9M299.5 666.1L292.5 668.5L295.7 665.9L292.8 663.0ZM294.0 664.5L332.7 665.5M336.4 665.5L329.5 668.1L332.7 665.5L329.7 662.6ZM327.6 665.0L372.5 665.0M376.7 665.0L369.2 668.0L372.5 665.0L369.2 662.0ZM364.6 665.0L409.5 665.0M413.6 665.0L406.1 668.0L409.5 665.0L406.1 662.0ZM398.3 665.0L449.4 665.0M453.8 665.0L445.8 668.2L449.4 665.0L445.8 661.8ZM435.2 665.0L486.4 665.0M490.8 665.0L482.8 668.2L486.4 665.0L482.8 661.8ZM472.2 665.0L523.3 665.0M527.7 665.0L519.7 668.2L523.3 665.0L519.7 661.8ZM505.8 665.0L563.6 665.0M568.0 665.0L560.0 668.2L563.6 665.0L560.0 661.8ZM542.8 665.0L600.5 665.0M604.9 665.0L596.9 668.2L600.5 665.0L596.9 661.8ZM579.7 665.0L637.5 665.0M641.9 665.0L633.9 668.2L637.5 665.0L633.9 661.8ZM613.4 665.0L677.7 665.0M682.1 665.0L674.1 668.2L677.7 665.0L674.1 661.8ZM650.4 666.2L714.6 664.0M719.0 663.8L711.1 667.3L714.6 664.0L710.9 660.9ZM687.7 670.2L751.2 660.5M755.6 659.8L748.2 664.2L751.2 660.5L747.2 657.9ZM79.1 699.1L105.0 704.1M107.9 704.7L102.1 705.8L105.0 704.1L102.9 701.5ZM116.0 699.1L141.9 704.1M144.9 704.7L139.0 705.8L141.9 704.1L139.9 701.5ZM152.7 700.6L179.0 702.9M182.1 703.2L176.3 704.9L179.0 702.9L176.7 700.5ZM189.6 701.9L216.0 701.9M219.1 701.9L213.5 704.1L216.0 701.9L213.5 699.7ZM223.4 703.2L255.8 700.9M259.2 700.6L253.2 703.6L255.8 700.9L252.9 698.6ZM260.4 703.8L292.7 700.4M296.1 700.0L290.2 703.1L292.7 700.4L289.7 698.2ZM294.2 704.9L332.5 699.5M336.2 698.9L329.8 702.6L332.5 699.5L329.1 697.2ZM331.1 705.1L369.4 699.3M373.2 698.7L366.8 702.5L369.4 699.3L366.0 697.0ZM364.8 705.0L409.3 699.3M413.4 698.8L406.4 702.7L409.3 699.3L405.6 696.8ZM401.7 704.8L446.3 699.5M450.4 699.0L443.3 702.9L446.3 699.5L442.6 696.9ZM435.4 705.0L486.2 699.3M490.6 698.8L483.0 702.8L486.2 699.3L482.3 696.5ZM469.1 705.3L526.5 699.0M530.8 698.5L523.2 702.6L526.5 699.0L522.5 696.2ZM506.0 704.9L563.4 699.3M567.8 698.9L560.2 702.8L563.4 699.3L559.5 696.5ZM539.6 704.9L603.7 699.3M608.1 698.9L600.4 702.8L603.7 699.3L599.8 696.4ZM576.6 705.1L640.6 699.1M645.0 698.7L637.3 702.6L640.6 699.1L636.7 696.2ZM613.6 705.5L677.5 698.8M681.9 698.3L674.3 702.3L677.5 698.8L673.6 696.0ZM650.7 706.3L714.4 698.0M718.7 697.5L711.2 701.7L714.4 698.0L710.4 695.3ZM694.2 706.3L744.7 698.2M749.1 697.5L741.7 701.9L744.7 698.2L740.7 695.6ZM78.8 740.1L105.1 737.8M108.2 737.5L102.8 740.2L105.1 737.8L102.4 735.8ZM115.8 740.1L142.1 737.8M145.1 737.5L139.8 740.2L142.1 737.8L139.4 735.8ZM152.9 741.3L178.9 736.7M181.9 736.2L176.8 739.4L178.9 736.7L176.0 735.0ZM190.1 742.6L215.6 735.8M218.6 735.0L213.8 738.5L215.6 735.8L212.6 734.3ZM443.8 742.2L478.7 736.0M482.2 735.4L476.3 739.1L478.7 736.0L475.4 734.0ZM482.2 741.6L514.4 736.5M517.7 736.0L512.0 739.4L514.4 736.5L511.2 734.5ZM516.3 741.7L553.8 736.4M557.5 735.9L551.2 739.5L553.8 736.4L550.4 734.1ZM554.5 741.2L589.7 736.8M593.2 736.4L587.1 739.8L589.7 736.8L586.4 734.6ZM591.4 740.8L626.6 737.1M630.2 736.7L624.0 740.0L626.6 737.1L623.5 734.8ZM628.9 741.1L663.1 736.9M666.6 736.5L660.6 739.8L663.1 736.9L659.9 734.7ZM667.0 741.9L699.1 736.2M702.4 735.6L696.8 739.2L699.1 736.2L695.9 734.3ZM79.2 779.2L104.8 772.8M107.8 772.1L102.9 775.6L104.8 772.8L101.9 771.3ZM113.0 780.0L144.6 772.1M147.9 771.3L142.5 775.2L144.6 772.1L141.3 770.4ZM79.3 816.3L104.8 809.5M107.7 808.7L102.9 812.3L104.8 809.5L101.8 808.0ZM113.1 817.2L144.5 808.8M147.8 807.9L142.5 811.9L144.5 808.8L141.2 807.1ZM157.0 817.4L175.3 808.8M177.8 807.7L174.2 811.5L175.3 808.8L172.5 808.0ZM79.3 853.2L104.8 846.4M107.7 845.6L102.9 849.2L104.8 846.4L101.8 844.9ZM116.2 853.2L141.7 846.4M144.7 845.6L139.9 849.2L141.7 846.4L138.7 844.9ZM154.1 855.6L178.0 844.5M180.7 843.2L176.6 847.5L178.0 844.5L174.8 843.5Z"/><path stroke="#000" stroke-width="1.3" stroke-opacity="0.64" d="M90.9 108.8L94.9 113.5M96.1 115.0L92.8 113.2L94.9 113.5L94.9 111.5ZM127.9 108.8L131.8 113.5M133.0 115.0L129.8 113.2L131.8 113.5L131.9 111.5ZM164.2 108.1L169.3 114.2M170.6 115.7L167.2 113.9L169.3 114.2L169.4 112.0ZM200.5 107.3L206.9 114.9M208.2 116.5L204.6 114.6L206.9 114.9L206.9 112.6ZM237.0 106.4L244.3 115.7M245.6 117.4L241.9 115.2L244.3 115.7L244.4 113.3ZM458.9 102.8L466.0 118.7M467.1 121.0L463.5 117.6L466.0 118.7L466.9 116.1ZM497.5 103.2L501.8 118.2M502.4 120.6L499.5 116.8L501.8 118.2L502.9 115.8ZM536.2 104.2L537.4 117.3M537.6 119.6L535.6 115.6L537.4 117.3L538.9 115.3ZM574.4 103.4L573.4 118.0M573.3 120.4L571.8 116.0L573.4 118.0L575.3 116.2ZM612.5 102.1L609.5 119.3M609.1 121.7L608.1 116.9L609.5 119.3L611.7 117.5ZM649.7 102.6L646.3 118.8M645.8 121.2L644.9 116.4L646.3 118.8L648.5 117.2ZM687.1 103.0L682.9 118.5M682.3 120.8L681.7 116.1L682.9 118.5L685.2 117.0ZM725.2 103.1L719.0 118.4M718.1 120.7L718.1 115.9L719.0 118.4L721.4 117.2ZM764.1 103.8L754.5 117.9M753.1 120.0L754.2 115.2L754.5 117.9L757.2 117.2ZM802.0 105.0L790.8 117.0M789.1 118.8L790.9 114.3L790.8 117.0L793.5 116.7ZM839.6 106.4L827.3 116.0M825.4 117.4L827.8 113.3L827.3 116.0L830.0 116.1ZM877.2 107.4L863.8 115.2M861.7 116.4L864.6 112.7L863.8 115.2L866.3 115.7ZM914.7 108.4L900.3 114.5M898.1 115.4L901.5 112.1L900.3 114.5L902.9 115.3ZM951.9 109.1L937.1 113.9M934.8 114.7L938.4 111.6L937.1 113.9L939.5 115.0ZM989.0 109.7L973.9 113.5M971.6 114.1L975.4 111.3L973.9 113.5L976.3 114.7ZM574.5 140.0L573.4 155.1M573.2 157.5L571.8 153.0L573.4 155.1L575.3 153.3ZM612.1 137.9L609.8 157.1M609.5 159.7L608.1 154.7L609.8 157.1L612.0 155.2ZM649.0 139.4L646.8 155.7M646.5 158.2L645.3 153.5L646.8 155.7L648.9 154.0ZM686.3 139.7L683.5 155.5M683.1 157.9L682.1 153.2L683.5 155.5L685.6 153.8ZM724.6 139.7L719.5 155.5M718.7 157.8L718.4 153.0L719.5 155.5L721.8 154.1ZM763.6 140.4L754.9 155.0M753.6 157.1L754.4 152.3L754.9 155.0L757.5 154.2ZM801.5 141.5L791.1 154.1M789.6 156.0L791.0 151.4L791.1 154.1L793.8 153.7ZM839.3 142.9L827.5 153.1M825.7 154.7L827.9 150.5L827.5 153.1L830.2 153.1ZM877.1 144.0L863.9 152.3M861.8 153.5L864.6 149.7L863.9 152.3L866.5 152.7ZM914.6 145.0L900.4 151.6M898.2 152.6L901.5 149.1L900.4 151.6L903.0 152.3ZM951.9 145.8L937.1 150.9M934.8 151.7L938.4 148.6L937.1 150.9L939.6 151.9ZM989.0 146.6L973.9 150.4M971.6 151.0L975.4 148.2L973.9 150.4L976.3 151.6ZM533.5 176.5L539.4 192.4M540.3 194.8L537.0 191.2L539.4 192.4L540.4 189.9ZM571.9 176.6L575.3 192.3M575.8 194.7L573.1 190.8L575.3 192.3L576.6 190.0ZM609.8 175.2L611.6 193.5M611.8 196.1L609.5 191.6L611.6 193.5L613.2 191.2ZM646.7 175.2L648.5 193.5M648.8 196.1L646.4 191.6L648.5 193.5L650.2 191.2ZM684.7 175.2L684.7 193.6M684.7 196.2L682.8 191.5L684.7 193.6L686.6 191.5ZM723.3 175.3L720.4 193.5M720.0 196.0L718.9 191.1L720.4 193.5L722.6 191.7ZM763.5 175.8L754.9 193.1M753.7 195.5L754.1 190.3L754.9 193.1L757.5 192.1ZM802.9 177.2L789.9 192.1M788.2 194.1L789.9 189.2L789.9 192.1L792.8 191.8ZM841.4 179.1L825.8 190.6M823.6 192.2L826.4 187.8L825.8 190.6L828.6 190.9ZM880.5 181.1L860.9 189.2M858.4 190.2L862.2 186.5L860.9 189.2L863.7 190.2ZM912.2 184.1L902.6 186.7M900.6 187.2L903.9 184.8L902.6 186.7L904.7 187.7ZM493.2 212.6L505.2 230.1M506.7 232.4L502.3 229.4L505.2 230.1L505.6 227.2ZM530.6 212.9L541.7 229.9M543.2 232.2L538.9 229.1L541.7 229.9L542.1 227.0ZM995.3 222.0L968.4 222.9M965.3 223.0L970.8 220.6L968.4 222.9L971.0 225.1ZM952.9 259.4L936.3 259.4M933.9 259.4L938.4 257.6L936.3 259.4L938.4 261.2ZM989.3 259.4L973.7 259.4M971.3 259.4L975.7 257.6L973.7 259.4L975.7 261.2ZM735.8 283.6L710.1 306.6M707.5 309.0L710.6 302.8L710.1 306.6L714.0 306.6ZM880.0 299.5L861.5 293.8M858.9 293.1L864.1 292.6L861.5 293.8L863.0 296.3ZM915.4 300.7L899.7 293.0M897.4 291.9L902.4 292.3L899.7 293.0L900.7 295.6ZM951.4 301.3L937.4 292.6M935.3 291.2L940.1 292.1L937.4 292.6L938.2 295.2ZM987.7 301.4L974.9 292.5M972.9 291.1L977.5 292.2L974.9 292.5L975.5 295.1ZM726.6 328.2L718.3 336.5M716.7 338.1L718.4 334.1L718.3 336.5L720.7 336.4ZM762.1 334.4L756.8 332.5M755.1 331.9L758.7 331.8L756.8 332.5L757.8 334.3ZM797.7 341.9L794.0 326.8M793.4 324.4L796.1 328.3L794.0 326.8L792.7 329.1ZM832.5 346.6L832.5 322.6M832.5 319.6L834.6 324.9L832.5 322.6L830.4 324.9ZM868.8 348.6L870.0 320.8M870.1 317.7L872.1 323.5L870.0 320.8L867.6 323.3ZM905.3 348.9L907.3 320.5M907.5 317.4L909.4 323.3L907.3 320.5L904.8 323.0ZM942.2 348.9L944.2 320.5M944.5 317.4L946.3 323.3L944.2 320.5L941.8 323.0ZM979.2 348.9L981.2 320.5M981.4 317.4L983.3 323.3L981.2 320.5L978.7 323.0ZM485.5 361.4L511.5 377.0M514.4 378.7L508.0 377.7L511.5 377.0L510.5 373.6ZM524.4 358.2L547.0 379.6M549.4 381.9L543.4 379.5L547.0 379.6L546.7 376.0ZM563.9 356.9L581.9 380.6M583.8 383.2L578.4 379.9L581.9 380.6L582.2 377.0ZM601.2 351.9L618.7 384.9M620.4 388.1L614.9 383.5L618.7 384.9L619.6 381.0ZM641.7 353.1L652.6 383.8M653.8 387.0L649.4 382.0L652.6 383.8L654.0 380.3ZM683.1 361.7L685.9 376.0M686.3 378.4L683.8 374.5L685.9 376.0L687.2 373.8ZM722.7 374.9L721.0 367.1M720.6 365.1L722.8 368.4L721.0 367.1L720.0 369.0ZM758.8 382.9L758.4 360.0M758.4 357.1L760.5 362.3L758.4 360.0L756.4 362.3ZM792.7 387.3L797.9 356.1M798.4 352.8L799.8 359.2L797.9 356.1L795.0 358.4ZM827.5 388.2L836.6 355.2M837.5 351.9L838.3 358.7L836.6 355.2L833.4 357.3ZM863.3 389.0L874.5 354.5M875.6 351.1L876.1 358.2L874.5 354.5L871.1 356.5ZM899.5 389.9L912.1 353.7M913.3 350.2L913.6 357.5L912.1 353.7L908.5 355.7ZM936.3 389.3L949.1 354.2M950.4 350.8L950.6 358.0L949.1 354.2L945.6 356.1ZM973.0 389.2L986.3 354.3M987.6 350.9L987.7 358.1L986.3 354.3L982.7 356.2ZM481.4 396.0L515.2 415.9M518.5 417.8L511.1 416.7L515.2 415.9L513.9 411.9ZM520.6 396.5L550.2 415.4M553.2 417.3L546.3 416.0L550.2 415.4L549.1 411.6ZM557.5 395.4L587.3 416.3M590.2 418.4L583.3 416.7L587.3 416.3L586.3 412.4ZM593.5 395.2L625.0 416.5M628.1 418.6L621.0 417.0L625.0 416.5L624.0 412.5ZM634.4 400.7L658.4 411.8M661.1 413.1L655.1 412.8L658.4 411.8L657.0 408.8ZM679.4 408.5L688.0 405.9M690.0 405.3L686.9 407.8L688.0 405.9L686.0 405.0ZM722.1 419.4L721.3 397.2M721.2 394.4L723.4 399.4L721.3 397.2L719.4 399.6ZM761.4 423.2L756.4 393.8M755.8 390.6L759.2 396.1L756.4 393.8L754.5 396.8ZM796.1 423.4L795.1 393.7M795.0 390.4L797.5 396.2L795.1 393.7L792.8 396.4ZM830.2 422.4L834.3 394.5M834.8 391.4L836.2 397.4L834.3 394.5L831.7 396.7ZM865.6 422.4L872.5 394.5M873.3 391.4L874.2 397.6L872.5 394.5L869.7 396.4ZM901.0 423.5L910.8 393.4M911.8 390.3L912.2 396.8L910.8 393.4L907.6 395.3ZM936.4 424.1L949.0 393.0M950.3 389.7L950.3 396.5L949.0 393.0L945.6 394.6ZM972.6 424.3L986.6 392.8M988.0 389.5L987.8 396.4L986.6 392.8L983.1 394.3ZM632.3 437.5L660.1 448.8M663.2 450.0L656.8 450.0L660.1 448.8L658.6 445.6ZM666.6 447.7L699.4 440.5M702.8 439.8L697.2 443.6L699.4 440.5L696.1 438.7ZM712.5 456.9L729.0 433.3M730.8 430.7L729.4 436.8L729.0 433.3L725.6 434.1ZM754.9 461.4L761.6 429.5M762.3 426.2L763.5 432.7L761.6 429.5L758.6 431.7ZM792.6 461.5L797.9 429.4M798.5 426.0L799.9 432.5L797.9 429.4L795.0 431.7ZM828.4 461.7L835.9 429.2M836.6 425.8L837.7 432.5L835.9 429.2L832.8 431.4ZM863.7 461.4L874.1 429.5M875.2 426.2L875.6 433.0L874.1 429.5L870.8 431.4ZM899.4 460.6L912.1 430.1M913.4 427.0L913.3 433.7L912.1 430.1L908.7 431.8ZM935.1 459.6L950.0 431.0M951.6 428.0L950.9 434.6L950.0 431.0L946.5 432.3ZM971.6 458.9L987.4 431.5M989.1 428.6L988.1 435.1L987.4 431.5L983.9 432.7ZM664.2 479.2L701.5 481.8M705.2 482.1L698.3 484.3L701.5 481.8L698.7 478.9ZM701.3 490.2L738.5 472.8M742.0 471.1L736.8 476.7L738.5 472.8L734.4 471.6ZM743.8 497.9L770.8 466.3M773.4 463.4L770.9 470.6L770.8 466.3L766.6 466.9ZM783.8 502.7L805.3 462.3M807.3 458.6L806.4 466.7L805.3 462.3L801.0 463.9ZM822.5 504.1L840.9 461.1M842.5 457.2L842.3 465.5L840.9 461.1L836.7 463.1ZM858.1 502.8L878.9 462.3M880.8 458.5L880.0 466.7L878.9 462.3L874.7 463.9ZM894.3 499.9L916.4 464.7M918.5 461.4L917.1 468.9L916.4 464.7L912.2 465.9ZM930.5 497.1L953.9 467.2M956.2 464.2L954.2 471.2L953.9 467.2L949.9 467.9ZM967.4 496.0L990.8 468.1M993.2 465.3L990.9 472.1L990.8 468.1L986.9 468.7ZM698.1 520.8L741.2 514.8M745.2 514.2L738.3 518.2L741.2 514.8L737.5 512.3ZM739.7 533.9L774.3 503.9M777.5 501.1L773.7 508.4L774.3 503.9L769.7 503.8ZM778.2 537.5L810.1 500.8M812.9 497.5L810.1 505.6L810.1 500.8L805.4 501.4ZM817.4 539.9L845.1 498.8M847.6 495.1L845.8 503.6L845.1 498.8L840.5 500.0ZM855.7 537.5L880.9 500.9M883.2 497.5L881.4 505.4L880.9 500.9L876.5 502.0ZM891.3 536.2L918.9 502.0M921.5 498.9L919.1 506.5L918.9 502.0L914.5 502.8ZM927.1 534.9L956.8 503.1M959.6 500.1L956.7 507.5L956.8 503.1L952.4 503.5ZM963.7 534.1L994.1 503.7M996.9 500.9L993.8 508.1L994.1 503.7L989.7 504.0ZM732.8 563.8L780.3 546.5M784.4 545.0L778.0 550.7L780.3 546.5L775.8 544.7ZM775.4 573.2L812.4 538.6M815.7 535.6L812.0 543.4L812.4 538.6L807.6 538.8ZM816.9 574.3L845.5 537.8M848.1 534.5L845.8 542.4L845.5 537.8L840.9 538.6ZM854.3 573.1L882.0 538.9M884.6 535.7L882.2 543.4L882.0 538.9L877.6 539.6ZM891.3 571.8L918.9 540.0M921.5 537.0L918.9 544.4L918.9 540.0L914.6 540.6ZM927.1 570.7L956.8 540.9M959.6 538.1L956.6 545.3L956.8 540.9L952.5 541.2ZM963.5 570.1L994.2 541.4M997.1 538.7L993.8 545.7L994.2 541.4L989.9 541.5ZM775.6 603.7L812.1 580.9M815.5 578.8L810.8 585.2L812.1 580.9L807.7 580.2ZM817.5 605.0L844.8 580.0M847.5 577.5L844.4 584.0L844.8 580.0L840.8 580.1ZM855.7 603.7L880.6 581.2M883.2 578.9L880.2 585.0L880.6 581.2L876.8 581.2ZM892.7 603.7L917.6 581.2M920.1 578.9L917.2 585.0L917.6 581.2L913.8 581.2ZM928.4 602.6L955.5 582.1M958.3 580.0L954.8 585.8L955.5 582.1L951.7 581.8ZM964.7 602.2L993.0 582.4M995.9 580.4L992.1 586.1L993.0 582.4L989.2 582.0ZM735.0 634.9L778.2 622.5M782.2 621.4L775.8 626.3L778.2 622.5L774.1 620.6ZM777.3 637.5L810.5 620.5M813.8 618.8L809.1 624.3L810.5 620.5L806.6 619.5ZM818.1 638.1L844.1 620.1M846.9 618.2L843.3 623.7L844.1 620.1L840.5 619.7ZM856.4 638.2L880.0 620.1M882.5 618.1L879.3 623.6L880.0 620.1L876.4 619.8ZM895.2 638.1L915.3 620.2M917.6 618.2L914.9 623.6L915.3 620.2L911.9 620.2ZM933.3 636.9L951.2 621.3M953.4 619.4L950.8 624.5L951.2 621.3L948.0 621.3ZM970.7 636.2L987.7 621.9M989.9 620.1L987.3 625.0L987.7 621.9L984.7 621.8ZM735.0 671.8L778.2 659.4M782.2 658.3L775.8 663.2L778.2 659.4L774.1 657.5ZM779.2 671.3L808.8 660.0M811.9 658.8L807.1 663.2L808.8 660.0L805.3 658.7ZM819.4 671.2L842.9 660.2M845.6 658.9L841.6 663.2L842.9 660.2L839.7 659.2ZM856.9 670.1L879.3 661.1M882.0 660.0L877.8 663.9L879.3 661.1L876.3 660.0ZM895.2 669.3L915.1 661.8M917.6 660.8L913.7 664.4L915.1 661.8L912.2 660.7ZM935.3 668.8L949.2 662.3M951.4 661.3L948.1 664.7L949.2 662.3L946.7 661.5ZM973.6 668.4L985.0 662.6M987.0 661.6L984.1 664.9L985.0 662.6L982.6 662.0ZM740.6 706.1L773.2 698.5M776.6 697.7L771.1 701.6L773.2 698.5L769.9 696.7ZM781.2 706.3L806.9 698.4M809.9 697.5L805.2 701.3L806.9 698.4L803.9 697.0ZM818.2 706.3L843.9 698.4M846.8 697.5L842.1 701.3L843.9 698.4L840.8 697.0ZM855.8 705.0L880.2 699.4M883.1 698.8L878.3 702.1L880.2 699.4L877.3 697.9ZM895.1 703.9L915.1 700.4M917.7 699.9L913.2 702.7L915.1 700.4L912.6 698.8ZM935.3 703.4L949.1 700.8M951.4 700.4L947.5 702.8L949.1 700.8L946.9 699.5ZM973.4 703.2L985.0 701.0M987.2 700.6L983.6 702.9L985.0 701.0L982.9 699.8ZM230.7 742.4L249.4 736.0M251.9 735.1L248.0 738.5L249.4 736.0L246.7 734.9ZM268.0 743.8L286.1 735.0M288.5 733.8L285.0 737.7L286.1 735.0L283.3 734.2ZM304.3 743.8L323.6 734.9M326.1 733.7L322.4 737.6L323.6 734.9L320.7 734.0ZM340.5 742.6L361.2 735.8M363.8 735.0L359.7 738.5L361.2 735.8L358.4 734.6ZM376.9 742.4L398.6 736.0M401.3 735.2L397.0 738.6L398.6 736.0L395.8 734.6ZM410.4 742.3L438.6 736.0M441.7 735.3L436.5 738.8L438.6 736.0L435.5 734.3ZM705.6 742.5L734.6 735.8M737.7 735.1L732.5 738.7L734.6 735.8L731.4 734.1ZM744.8 742.5L769.5 735.9M772.4 735.1L767.7 738.6L769.5 735.9L766.5 734.4ZM783.1 742.5L805.3 735.9M808.0 735.0L803.6 738.5L805.3 735.9L802.4 734.5ZM818.0 741.8L844.0 736.4M847.0 735.8L842.0 739.1L844.0 736.4L841.1 734.7ZM855.7 740.7L880.3 737.3M883.2 736.8L878.2 739.7L880.3 737.3L877.6 735.5ZM895.2 739.5L915.0 738.2M917.6 738.0L912.9 740.3L915.0 738.2L912.7 736.4ZM937.4 739.3L947.2 738.4M949.3 738.3L945.7 740.1L947.2 738.4L945.4 737.1ZM975.3 739.3L983.3 738.5M985.3 738.3L981.8 740.1L983.3 738.5L981.5 737.2ZM158.1 779.0L174.3 773.1M176.7 772.3L173.0 775.6L174.3 773.1L171.7 772.1ZM195.8 780.6L210.7 772.0M212.9 770.7L209.8 774.6L210.7 772.0L208.0 771.4ZM233.4 781.0L247.1 771.7M249.2 770.3L246.5 774.3L247.1 771.7L244.4 771.4ZM269.9 781.6L284.5 771.1M286.6 769.7L283.9 773.9L284.5 771.1L281.8 770.9ZM305.5 781.3L322.6 771.4M324.9 770.0L321.7 774.1L322.6 771.4L319.8 770.8ZM341.4 781.0L360.4 771.5M362.9 770.3L359.3 774.3L360.4 771.5L357.5 770.7ZM379.4 780.8L396.5 771.7M398.8 770.5L395.5 774.4L396.5 771.7L393.7 771.0ZM416.7 781.9L433.2 770.9M435.4 769.4L432.5 773.7L433.2 770.9L430.3 770.5ZM452.6 782.1L471.0 770.6M473.4 769.2L470.2 773.5L471.0 770.6L468.0 770.1ZM489.3 782.2L508.2 770.6M510.6 769.1L507.3 773.5L508.2 770.6L505.2 770.0ZM526.9 781.0L544.6 771.6M546.9 770.3L543.5 774.3L544.6 771.6L541.7 770.9ZM561.0 780.6L584.0 771.8M586.7 770.7L582.5 774.6L584.0 771.8L581.0 770.6ZM595.8 779.4L622.8 772.7M625.8 771.9L620.9 775.5L622.8 772.7L619.8 771.1ZM634.0 776.9L658.6 774.7M661.5 774.4L656.3 777.1L658.6 774.7L656.0 772.8ZM673.5 776.8L693.3 774.7M695.9 774.5L691.3 776.9L693.3 774.7L690.9 773.0ZM711.8 777.4L729.0 774.4M731.5 773.9L727.3 776.5L729.0 774.4L726.6 772.9ZM748.6 778.9L766.1 773.2M768.6 772.4L764.7 775.6L766.1 773.2L763.5 772.1ZM784.8 778.9L803.8 773.2M806.3 772.4L802.2 775.7L803.8 773.2L801.1 771.9ZM822.0 778.9L840.5 773.2M843.0 772.4L839.0 775.7L840.5 773.2L837.9 772.0ZM860.7 779.4L875.9 772.9M878.2 771.9L874.8 775.4L875.9 772.9L873.3 772.0ZM899.0 779.8L911.7 772.6M913.8 771.5L910.9 775.1L911.7 772.6L909.2 772.1ZM937.8 779.9L947.1 772.7M948.9 771.4L946.7 775.1L947.1 772.7L944.7 772.5ZM974.9 780.1L984.0 772.6M985.7 771.2L983.6 774.9L984.0 772.6L981.6 772.5ZM197.6 816.8L209.2 809.5M211.1 808.3L208.5 811.9L209.2 809.5L206.7 809.1ZM235.1 817.1L245.7 809.3M247.5 807.9L245.2 811.7L245.7 809.3L243.2 809.0ZM270.8 817.6L283.7 808.8M285.7 807.5L283.0 811.4L283.7 808.8L281.1 808.5ZM305.8 817.3L322.3 808.9M324.6 807.8L321.2 811.6L322.3 808.9L319.5 808.2ZM341.8 816.8L360.1 809.2M362.5 808.2L358.8 811.9L360.1 809.2L357.3 808.3ZM380.1 817.9L395.9 808.5M398.1 807.2L395.1 811.2L395.9 808.5L393.1 808.0ZM417.7 818.6L432.3 808.0M434.4 806.4L431.7 810.7L432.3 808.0L429.5 807.7ZM453.5 819.0L470.3 807.6M472.5 806.1L469.6 810.5L470.3 807.6L467.4 807.2ZM489.3 818.9L508.2 807.6M510.6 806.1L507.3 810.5L508.2 807.6L505.2 807.0ZM525.7 819.1L545.6 807.4M548.1 805.9L544.7 810.4L545.6 807.4L542.6 806.8ZM559.7 818.8L585.1 807.5M588.0 806.2L583.7 810.6L585.1 807.5L581.9 806.5ZM593.8 816.8L624.5 809.1M627.8 808.3L622.5 812.1L624.5 809.1L621.3 807.4ZM632.3 814.3L660.0 811.1M663.2 810.8L657.7 813.7L660.0 811.1L657.2 809.2ZM675.2 812.5L691.7 812.5M694.2 812.5L689.7 814.3L691.7 812.5L689.7 810.7ZM716.7 812.5L724.7 812.5M726.7 812.5L723.1 814.0L724.7 812.5L723.1 811.1ZM749.9 812.5L765.0 812.5M767.4 812.5L763.0 814.3L765.0 812.5L763.0 810.8ZM786.9 815.0L801.9 810.7M804.2 810.0L800.5 812.9L801.9 810.7L799.5 809.6ZM822.7 816.2L839.9 809.7M842.3 808.8L838.6 812.2L839.9 809.7L837.3 808.7ZM860.2 817.2L876.4 809.0M878.7 807.8L875.4 811.6L876.4 809.0L873.7 808.3ZM896.4 818.8L914.1 807.7M916.4 806.3L913.3 810.6L914.1 807.7L911.1 807.2ZM933.3 818.8L951.0 807.7M953.4 806.3L950.2 810.6L951.0 807.7L948.1 807.2ZM970.3 818.8L988.0 807.7M990.3 806.3L987.2 810.6L988.0 807.7L985.0 807.2ZM197.6 853.6L209.2 846.4M211.1 845.2L208.5 848.8L209.2 846.4L206.7 846.0ZM235.1 854.0L245.7 846.1M247.5 844.8L245.2 848.6L245.7 846.1L243.2 845.9ZM270.8 854.4L283.7 845.7M285.7 844.4L283.0 848.3L283.7 845.7L281.1 845.4ZM305.8 854.2L322.3 845.8M324.6 844.6L321.2 848.4L322.3 845.8L319.5 845.1ZM341.8 853.7L360.1 846.1M362.5 845.1L358.8 848.7L360.1 846.1L357.3 845.1ZM380.1 854.7L395.9 845.4M398.1 844.1L395.1 848.1L395.9 845.4L393.1 844.8ZM417.7 855.5L432.3 844.8M434.4 843.3L431.7 847.6L432.3 844.8L429.5 844.6ZM453.5 855.8L470.3 844.5M472.5 843.0L469.6 847.3L470.3 844.5L467.4 844.1ZM489.3 855.8L508.2 844.5M510.6 843.0L507.3 847.4L508.2 844.5L505.2 843.9ZM525.7 856.0L545.6 844.3M548.1 842.8L544.7 847.2L545.6 844.3L542.6 843.6ZM559.7 855.7L585.1 844.4M588.0 843.1L583.7 847.5L585.1 844.4L581.9 843.3ZM593.8 853.6L624.5 846.0M627.8 845.2L622.5 849.0L624.5 846.0L621.3 844.3ZM632.3 851.1L660.0 848.0M663.2 847.7L657.7 850.6L660.0 848.0L657.2 846.0ZM675.2 849.4L691.7 849.4M694.2 849.4L689.7 851.2L691.7 849.4L689.7 847.6ZM716.7 849.4L724.7 849.4M726.7 849.4L723.1 850.8L724.7 849.4L723.1 848.0ZM749.9 849.4L765.0 849.4M767.4 849.4L763.0 851.1L765.0 849.4L763.0 847.7ZM786.9 851.9L801.9 847.6M804.2 846.9L800.5 849.8L801.9 847.6L799.5 846.4ZM822.7 853.1L839.9 846.6M842.3 845.7L838.6 849.1L839.9 846.6L837.3 845.6ZM860.2 854.1L876.4 845.8M878.7 844.7L875.4 848.5L876.4 845.8L873.7 845.1ZM896.4 855.7L914.1 844.6M916.4 843.1L913.3 847.5L914.1 844.6L911.1 844.1ZM933.3 855.7L951.0 844.6M953.4 843.1L950.2 847.5L951.0 844.6L948.1 844.1ZM970.3 855.7L988.0 844.6M990.3 843.1L987.2 847.5L988.0 844.6L985.0 844.1Z"/></g>
</g>
<rect x="875.5" y="112" width="105" height="66.5" fill="#fff" stroke="#222" stroke-width="1"/>
<text x="927.5" y="136.6" font-size="23" text-anchor="middle" fill="#111">30</text>
<g stroke="#858585" fill="none"><path stroke-width="1.8" d="M880.4 154.8H969.5"/><path stroke-width="1.3" d="M967 151.5 L975 154.8 L967.2 158.1 L969.5 154.8Z"/></g>
<g stroke="#000" stroke-width="2.6" fill="none" stroke-linecap="butt">
<rect x="93.5" y="111.9" width="886.8" height="737.5"/>
<path d="M72.2 111.9H93.5"/>
<path d="M72.2 259.4H93.5"/>
<path d="M72.2 406.9H93.5"/>
<path d="M72.2 554.4H93.5"/>
<path d="M72.2 701.9H93.5"/>
<path d="M72.2 849.4H93.5"/>
<path d="M93.5 849.4V869.7"/>
<path d="M241.3 849.4V869.7"/>
<path d="M389.1 849.4V869.7"/>
<path d="M536.9 849.4V869.7"/>
<path d="M684.7 849.4V869.7"/>
<path d="M832.5 849.4V869.7"/>
<path d="M980.3 849.4V869.7"/>
</g>
<text x="2.6" y="121.3" font-size="24" textLength="56" lengthAdjust="spacingAndGlyphs">52°N</text>
<text x="2.6" y="268.8" font-size="24" textLength="56" lengthAdjust="spacingAndGlyphs">50°N</text>
<text x="2.6" y="416.3" font-size="24" textLength="56" lengthAdjust="spacingAndGlyphs">48°N</text>
<text x="2.6" y="563.8" font-size="24" textLength="56" lengthAdjust="spacingAndGlyphs">46°N</text>
<text x="2.6" y="711.3" font-size="24" textLength="56" lengthAdjust="spacingAndGlyphs">44°N</text>
<text x="2.6" y="858.8" font-size="24" textLength="56" lengthAdjust="spacingAndGlyphs">42°N</text>
<text x="93.5" y="904.5" font-size="24" text-anchor="middle">10°W</text>
<text x="241.3" y="904.5" font-size="24" text-anchor="middle">8°W</text>
<text x="389.1" y="904.5" font-size="24" text-anchor="middle">6°W</text>
<text x="536.9" y="904.5" font-size="24" text-anchor="middle">4°W</text>
<text x="684.7" y="904.5" font-size="24" text-anchor="middle">2°W</text>
<text x="832.5" y="904.5" font-size="24" text-anchor="middle">0°</text>
<text x="980.3" y="904.5" font-size="24" text-anchor="middle">2°E</text>
<text x="311" y="36" font-size="30.5" textLength="545" lengthAdjust="spacingAndGlyphs">Champs de vent Xynthia (données GFS)</text>
<text x="376.5" y="75.6" font-size="30.5" textLength="420" lengthAdjust="spacingAndGlyphs">28/02/2010 à 4h (heure légale)</text>
<text x="1058" y="95.4" font-size="34" textLength="56" lengthAdjust="spacingAndGlyphs">m/s</text>
<rect x="1054.5" y="121.90" width="51.9" height="42.28" fill="#c8c8c8" stroke="#1a1a1a" stroke-width="1.2"/>
<rect x="1054.5" y="164.18" width="51.9" height="42.28" fill="#8c0a5a" stroke="#1a1a1a" stroke-width="1.2"/>
<rect x="1054.5" y="206.45" width="51.9" height="42.28" fill="#d20a28" stroke="#1a1a1a" stroke-width="1.2"/>
<rect x="1054.5" y="248.73" width="51.9" height="42.28" fill="#ff1e0a" stroke="#1a1a1a" stroke-width="1.2"/>
<rect x="1054.5" y="291.01" width="51.9" height="42.28" fill="#ff5a0a" stroke="#1a1a1a" stroke-width="1.2"/>
<rect x="1054.5" y="333.28" width="51.9" height="42.28" fill="#ff9012" stroke="#1a1a1a" stroke-width="1.2"/>
<rect x="1054.5" y="375.56" width="51.9" height="42.28" fill="#fbbc10" stroke="#1a1a1a" stroke-width="1.2"/>
<rect x="1054.5" y="417.84" width="51.9" height="42.28" fill="#ffd914" stroke="#1a1a1a" stroke-width="1.2"/>
<rect x="1054.5" y="460.11" width="51.9" height="42.28" fill="#ffff14" stroke="#1a1a1a" stroke-width="1.2"/>
<rect x="1054.5" y="502.39" width="51.9" height="42.28" fill="#a4e317" stroke="#1a1a1a" stroke-width="1.2"/>
<rect x="1054.5" y="544.66" width="51.9" height="42.28" fill="#4ac61e" stroke="#1a1a1a" stroke-width="1.2"/>
<rect x="1054.5" y="586.94" width="51.9" height="42.28" fill="#0ab428" stroke="#1a1a1a" stroke-width="1.2"/>
<rect x="1054.5" y="629.22" width="51.9" height="42.28" fill="#0ad28c" stroke="#1a1a1a" stroke-width="1.2"/>
<rect x="1054.5" y="671.49" width="51.9" height="42.28" fill="#0af0dc" stroke="#1a1a1a" stroke-width="1.2"/>
<rect x="1054.5" y="713.77" width="51.9" height="42.28" fill="#0ac8f0" stroke="#1a1a1a" stroke-width="1.2"/>
<rect x="1054.5" y="756.05" width="51.9" height="42.28" fill="#0a64f5" stroke="#1a1a1a" stroke-width="1.2"/>
<rect x="1054.5" y="798.32" width="51.9" height="42.28" fill="#0a0af5" stroke="#1a1a1a" stroke-width="1.2"/>
<text x="1132.2" y="169.6" font-size="14.8" text-anchor="middle" fill="#222">30</text>
<text x="1132.2" y="211.9" font-size="14.8" text-anchor="middle" fill="#222">28</text>
<text x="1132.2" y="254.1" font-size="14.8" text-anchor="middle" fill="#222">26</text>
<text x="1132.2" y="296.4" font-size="14.8" text-anchor="middle" fill="#222">24</text>
<text x="1132.2" y="338.7" font-size="14.8" text-anchor="middle" fill="#222">22</text>
<text x="1132.2" y="381.0" font-size="14.8" text-anchor="middle" fill="#222">20</text>
<text x="1132.2" y="423.2" font-size="14.8" text-anchor="middle" fill="#222">18</text>
<text x="1132.2" y="465.5" font-size="14.8" text-anchor="middle" fill="#222">16</text>
<text x="1132.2" y="507.8" font-size="14.8" text-anchor="middle" fill="#222">14</text>
<text x="1132.2" y="550.1" font-size="14.8" text-anchor="middle" fill="#222">12</text>
<text x="1132.2" y="592.3" font-size="14.8" text-anchor="middle" fill="#222">10</text>
<text x="1132.2" y="634.6" font-size="14.8" text-anchor="middle" fill="#222">8</text>
<text x="1132.2" y="676.9" font-size="14.8" text-anchor="middle" fill="#222">6</text>
<text x="1132.2" y="719.2" font-size="14.8" text-anchor="middle" fill="#222">4</text>
<text x="1132.2" y="761.4" font-size="14.8" text-anchor="middle" fill="#222">2</text>
<text x="1132.2" y="803.7" font-size="14.8" text-anchor="middle" fill="#222">0</text>
</svg></body></html>
